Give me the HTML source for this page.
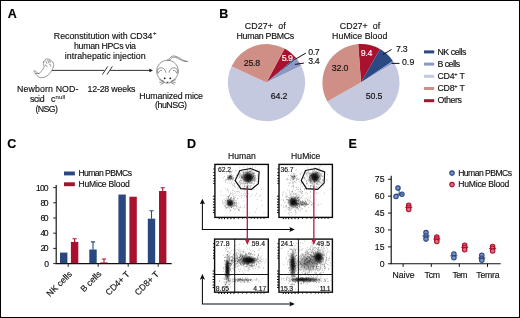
<!DOCTYPE html>
<html><head><meta charset="utf-8"><title>Figure</title>
<style>
html,body{margin:0;padding:0;background:#fff;}
svg{display:block;will-change:transform;font-family:"Liberation Sans",sans-serif;}
text{font-family:"Liberation Sans",sans-serif;stroke-width:0.15px;}
</style></head><body>
<svg width="520" height="318" viewBox="0 0 520 318">
<rect width="520" height="318" fill="#fff"/>
<text x="7.8" y="17.9" font-size="12.5" text-anchor="start" font-weight="bold" fill="#000" stroke="#000" >A</text>
<text x="219.3" y="18.0" font-size="12.5" text-anchor="start" font-weight="bold" fill="#000" stroke="#000" >B</text>
<text x="7.3" y="148.2" font-size="12.5" text-anchor="start" font-weight="bold" fill="#000" stroke="#000" >C</text>
<text x="186.9" y="148.2" font-size="12.5" text-anchor="start" font-weight="bold" fill="#000" stroke="#000" >D</text>
<text x="348.6" y="148.2" font-size="12.5" text-anchor="start" font-weight="bold" fill="#000" stroke="#000" >E</text>
<text x="53.8" y="39.0" font-size="8.8" textLength="98.70" lengthAdjust="spacing" fill="#111" stroke="#111" >Reconstitution with CD34</text>
<text x="152.9" y="34.9" font-size="6" text-anchor="start" font-weight="normal" fill="#111" stroke="#111" >+</text>
<text x="74" y="49.3" font-size="8.8" textLength="62.00" lengthAdjust="spacing" fill="#111" stroke="#111" >human HPCs via</text>
<text x="64.8" y="59.4" font-size="8.8" textLength="80.80" lengthAdjust="spacing" fill="#111" stroke="#111" >intrahepatic injection</text>
<path d="M52 70.4H104.4M110.2 70.4H151" stroke="#1a1a1a" stroke-width="0.9" fill="none"/>
<path d="M153 70.4l-3.6 -1.9v3.8z" fill="#222"/>
<path d="M102.4 74.5L107.8 66.4M107 74.5L112.4 66.4" stroke="#1a1a1a" stroke-width="0.9" fill="none"/>
<text x="16.9" y="91.9" font-size="8.8" textLength="61.60" lengthAdjust="spacing" fill="#111" stroke="#111" >Newborn NOD-</text>
<text x="30" y="102" font-size="8.8" textLength="14.60" lengthAdjust="spacing" fill="#111" stroke="#111" >scid</text>
<text x="51.0" y="102" font-size="8.8" text-anchor="start" font-weight="normal" fill="#111" stroke="#111" >c</text>
<text x="55.4" y="98.5" font-size="6.0" textLength="10.00" lengthAdjust="spacing" fill="#333" stroke="#333" >null</text>
<text x="35.4" y="112" font-size="8.8" textLength="22.60" lengthAdjust="spacing" fill="#111" stroke="#111" >(NSG)</text>
<text x="87.5" y="91.6" font-size="8.8" textLength="48.00" lengthAdjust="spacing" fill="#111" stroke="#111" >12-28 weeks</text>
<text x="139.3" y="98.8" font-size="8.8" textLength="63.70" lengthAdjust="spacing" fill="#111" stroke="#111" >Humanized mice</text>
<text x="155" y="108.4" font-size="8.8" textLength="32.00" lengthAdjust="spacing" fill="#111" stroke="#111" >(huNSG)</text>
<g fill="none" stroke="#6a6a6a" stroke-width="0.7" stroke-linecap="round" stroke-linejoin="round"><path d="M43.6 62.0Q43.9 61.4 44.4 60.5Q44.9 59.6 45.8 59.2Q46.7 58.8 47.7 59.0Q48.7 59.1 49.7 59.6Q50.7 60.1 51.7 61.0Q52.7 61.9 53.2 63.0Q53.7 64.1 53.6 65.6Q53.5 67.0 52.8 68.3Q52.2 69.7 51.4 70.9Q50.7 72.2 49.4 73.7Q48.2 75.2 46.4 76.3Q44.5 77.5 42.3 77.7Q40.1 78.0 38.6 76.9Q37.0 75.8 35.9 74.4Q34.8 72.9 34.3 71.5Q33.8 70.2 34.8 70.8Q35.8 71.4 36.7 72.3Q37.6 73.2 38.4 73.4Q39.1 73.7 40.0 72.8Q40.9 71.9 42.0 70.4Q43.1 68.9 43.8 67.9Q44.4 66.9 44.0 65.8Q43.6 64.6 43.5 63.6Q43.3 62.6 43.6 62.0z"/><path d="M45.8 61.1L46.9 63.4M47.7 60.1L48.7 62.6M49.7 60.3L50.2 62.4M49.2 63.9Q50.9 64.1 50.9 66.1M45.2 65.1L47.2 66.4M38.9 73.7L36.1 73.4"/></g>
<g fill="none" stroke="#666" stroke-width="0.7" stroke-linecap="round" stroke-linejoin="round"><path d="M167.5 60.2c-6 0 -10.8 5 -10.8 11c0 3 1.3 5.8 3.4 7.6c1.4 1.6 4.2 4.4 7.4 4.4s6 -2.8 7.4 -4.4c2.1 -1.800 3.400 -4.600 3.400 -7.600c0 -6 -4.800 -11 -10.800 -11z"/><path d="M157.200 72.500c-0.400 -3.200 2 -5 4.400 -4.700c2.300 0.300 3.800 2.200 4.300 4.500M158.300 73.200c0.300 -2 1.800 -3 3.300 -2.800M177.800 72.500c0.400 -3.200 -2 -5 -4.400 -4.700c-2.300 0.300 -3.800 2.200 -4.300 4.500M176.700 73.200c-0.300 -2 -1.800 -3 -3.300 -2.800"/><path d="M168.300 60.300c1 -2.600 3.200 -4.400 5.600 -4.400c4.400 0 8.400 5.600 13.300 5.600M169.500 60.600c1 -2 2.600 -3.400 4.500 -3.400c4 0 8 5 13.200 4.300"/><path d="M163.500 81l-4.200 -1.300M163.700 81.800l-4 0.600M164 82.500l-3.200 2M171.500 81l4.200 -1.300M171.300 81.800l4 0.600M171 82.500l3.200 2"/></g>
<circle cx="164.700" cy="78.300" r="0.900" fill="#111"/><circle cx="170.300" cy="78.300" r="0.900" fill="#111"/><path d="M166.500 81.800h2l-1 1.200z" fill="#111"/>
<path d="M266.5 82.6L284.62 48.52A38.6 38.6 0 0 1 295.74 57.40z" fill="#a8122f"/>
<path d="M266.5 82.6L295.74 57.40A38.6 38.6 0 0 1 296.82 58.71z" fill="#2b4a83"/>
<path d="M266.5 82.6L296.82 58.71A38.6 38.6 0 0 1 301.19 65.68z" fill="#8b99c3"/>
<path d="M266.5 82.6L301.19 65.68A38.6 38.6 0 1 1 231.55 66.21z" fill="#c4c9e0"/>
<path d="M266.5 82.6L231.55 66.21A38.6 38.6 0 0 1 284.62 48.52z" fill="#cf8f86"/>
<path d="M361 82.6L358.11 44.11A38.6 38.6 0 0 1 380.03 49.02z" fill="#a8122f"/>
<path d="M361 82.6L380.03 49.02A38.6 38.6 0 0 1 392.93 60.91z" fill="#2b4a83"/>
<path d="M361 82.6L392.93 60.91A38.6 38.6 0 0 1 394.11 62.75z" fill="#8b99c3"/>
<path d="M361 82.6L394.11 62.75A38.6 38.6 0 1 1 327.29 101.40z" fill="#c4c9e0"/>
<path d="M361 82.6L327.29 101.40A38.6 38.6 0 0 1 358.35 44.09z" fill="#cf8f86"/>
<text x="244.8" y="28.5" font-size="8.8" textLength="41.00" lengthAdjust="spacing" fill="#111" stroke="#111" >CD27+&#160;&#160;of</text>
<text x="236.5" y="38.7" font-size="8.8" textLength="57.70" lengthAdjust="spacing" fill="#111" stroke="#111" >Human PBMCs</text>
<text x="339.8" y="28.5" font-size="8.8" textLength="40.40" lengthAdjust="spacing" fill="#111" stroke="#111" >CD27+&#160;&#160;of</text>
<text x="332.1" y="38.7" font-size="8.8" textLength="55.20" lengthAdjust="spacing" fill="#111" stroke="#111" >HuMice Blood</text>
<text x="243.7" y="66.4" font-size="8.8" textLength="16.50" lengthAdjust="spacing" fill="#111" stroke="#111" >25.8</text>
<text x="281.8" y="61.4" font-size="8.8" textLength="11.00" lengthAdjust="spacing" fill="#fff" stroke="#fff" >5.9</text>
<text x="270.8" y="98.8" font-size="8.8" textLength="16.50" lengthAdjust="spacing" fill="#111" stroke="#111" >64.2</text>
<text x="308.3" y="54.5" font-size="8.8" textLength="11.40" lengthAdjust="spacing" fill="#111" stroke="#111" >0.7</text>
<text x="308.3" y="63.8" font-size="8.8" textLength="11.40" lengthAdjust="spacing" fill="#111" stroke="#111" >3.4</text>
<path d="M295.7 59L305.9 53.1M294.9 64.4L303.9 63.1" stroke="#111" stroke-width="1" fill="none"/>
<text x="331.7" y="70.5" font-size="8.8" textLength="16.70" lengthAdjust="spacing" fill="#111" stroke="#111" >32.0</text>
<text x="360.7" y="55.9" font-size="8.8" textLength="11.70" lengthAdjust="spacing" fill="#fff" stroke="#fff" >9.4</text>
<text x="365.8" y="99" font-size="8.8" textLength="16.50" lengthAdjust="spacing" fill="#111" stroke="#111" >50.5</text>
<text x="396" y="51.5" font-size="8.8" textLength="11.70" lengthAdjust="spacing" fill="#111" stroke="#111" >7.3</text>
<text x="401.9" y="65.3" font-size="8.8" textLength="12.40" lengthAdjust="spacing" fill="#111" stroke="#111" >0.9</text>
<path d="M383 54.5L391.5 49.5M391.5 63.4L399.5 63.4" stroke="#111" stroke-width="1" fill="none"/>
<rect x="424" y="50.40" width="10.2" height="3" fill="#2b4a83"/>
<rect x="424" y="62.60" width="10.2" height="3" fill="#8b99c3"/>
<rect x="424" y="74.80" width="10.2" height="3" fill="#c4c9e0"/>
<rect x="424" y="87.00" width="10.2" height="3" fill="#cf8f86"/>
<rect x="424" y="99.20" width="10.2" height="3" fill="#a8122f"/>
<text x="437.5" y="54.6" font-size="8.8" textLength="28.90" lengthAdjust="spacing" fill="#111" stroke="#111" >NK cells</text>
<text x="437.5" y="66.8" font-size="8.8" textLength="22.60" lengthAdjust="spacing" fill="#111" stroke="#111" >B cells</text>
<text x="437.5" y="103.4" font-size="8.8" textLength="24.50" lengthAdjust="spacing" fill="#111" stroke="#111" >Others</text>
<text x="437.5" y="79.0" font-size="8.8" text-anchor="start" font-weight="normal" fill="#111" stroke="#111" letter-spacing="-0.25">CD4<tspan font-size="5.6" dy="-2.8">+</tspan><tspan dy="2.8"> T</tspan></text>
<text x="437.5" y="91.2" font-size="8.8" text-anchor="start" font-weight="normal" fill="#111" stroke="#111" letter-spacing="-0.25">CD8<tspan font-size="5.6" dy="-2.8">+</tspan><tspan dy="2.8"> T</tspan></text>
<path d="M56.2 185V263.6H171.700" stroke="#111" stroke-width="1.15" fill="none"/>
<path d="M53.2 263.60H56.2" stroke="#111" stroke-width="0.900"/>
<text x="44.300000000000004" y="266.55" font-size="8.6" textLength="4.30" lengthAdjust="spacing" fill="#111" stroke="#111" >0</text>
<path d="M53.2 248.40H56.2" stroke="#111" stroke-width="0.900"/>
<text x="40.6" y="251.35" font-size="8.6" textLength="8.00" lengthAdjust="spacing" fill="#111" stroke="#111" >20</text>
<path d="M53.2 233.20H56.2" stroke="#111" stroke-width="0.900"/>
<text x="40.6" y="236.15" font-size="8.6" textLength="8.00" lengthAdjust="spacing" fill="#111" stroke="#111" >40</text>
<path d="M53.2 218.00H56.2" stroke="#111" stroke-width="0.900"/>
<text x="40.6" y="220.95" font-size="8.6" textLength="8.00" lengthAdjust="spacing" fill="#111" stroke="#111" >60</text>
<path d="M53.2 202.80H56.2" stroke="#111" stroke-width="0.900"/>
<text x="40.6" y="205.75" font-size="8.6" textLength="8.00" lengthAdjust="spacing" fill="#111" stroke="#111" >80</text>
<path d="M53.2 187.60H56.2" stroke="#111" stroke-width="0.900"/>
<text x="36.0" y="190.55" font-size="8.6" textLength="12.60" lengthAdjust="spacing" fill="#111" stroke="#111" >100</text>
<path d="M68.2 263.6V266.800" stroke="#111" stroke-width="0.900"/>
<path d="M98.2 263.6V266.800" stroke="#111" stroke-width="0.900"/>
<path d="M128.2 263.6V266.800" stroke="#111" stroke-width="0.900"/>
<path d="M158.2 263.6V266.800" stroke="#111" stroke-width="0.900"/>
<rect x="60.0" y="252.58" width="7.4" height="10.52" fill="#2a4880"/>
<rect x="70.9" y="241.94" width="7.4" height="21.16" fill="#a8122f"/>
<path d="M74.60000000000001 241.94V238.52M72.5 238.82h4.2" stroke="#a8122f" stroke-width="1.1" fill="none"/>
<rect x="89.3" y="249.50" width="7.4" height="13.60" fill="#2a4880"/>
<path d="M93.0 249.50V241.60M90.89999999999999 241.90h4.2" stroke="#2a4880" stroke-width="1.1" fill="none"/>
<rect x="100.3" y="262.46" width="7.4" height="0.64" fill="#a8122f"/>
<path d="M104.0 262.46V258.66M101.89999999999999 258.96h4.2" stroke="#a8122f" stroke-width="1.1" fill="none"/>
<rect x="118.4" y="194.55" width="7.4" height="68.55" fill="#2a4880"/>
<rect x="129.4" y="196.72" width="7.4" height="66.38" fill="#a8122f"/>
<rect x="147.8" y="218.68" width="7.4" height="44.42" fill="#2a4880"/>
<path d="M151.5 218.68V210.48M149.4 210.78h4.2" stroke="#2a4880" stroke-width="1.1" fill="none"/>
<rect x="159.0" y="191.02" width="7.4" height="72.08" fill="#a8122f"/>
<path d="M162.7 191.02V187.52M160.6 187.82h4.2" stroke="#a8122f" stroke-width="1.1" fill="none"/>
<text transform="translate(72.6 274.7) rotate(-45)" font-size="8.7" text-anchor="end" fill="#111" stroke="#111">NK cells</text>
<text transform="translate(102 274.4) rotate(-45)" font-size="8.7" text-anchor="end" fill="#111" stroke="#111">B cells</text>
<text transform="translate(130.2 274.8) rotate(-45)" font-size="8.7" text-anchor="end" fill="#111" stroke="#111">CD4+ T</text>
<text transform="translate(159.4 274.7) rotate(-45)" font-size="8.7" text-anchor="end" fill="#111" stroke="#111">CD8+ T</text>
<rect x="64" y="171.5" width="10.9" height="3.9" fill="#2a4880"/><rect x="64" y="182.3" width="10.9" height="3.9" fill="#a8122f"/>
<text x="78.4" y="175.8" font-size="8.6" textLength="53.60" lengthAdjust="spacing" fill="#111" stroke="#111" >Human PBMCs</text>
<text x="78.4" y="186.6" font-size="8.6" textLength="51.40" lengthAdjust="spacing" fill="#111" stroke="#111" >HuMice Blood</text>
<defs><radialGradient id="g"><stop offset="0" stop-color="#111" stop-opacity="0.95"/><stop offset="0.4" stop-color="#111" stop-opacity="0.7"/><stop offset="0.75" stop-color="#111" stop-opacity="0.22"/><stop offset="1" stop-color="#111" stop-opacity="0"/></radialGradient></defs>
<ellipse cx="248.2" cy="177.2" rx="8" ry="7.2" fill="url(#g)" opacity="1"/>
<ellipse cx="248.6" cy="177.1" rx="4.6" ry="4.2" fill="url(#g)" opacity="1"/>
<ellipse cx="230" cy="177.4" rx="3.2" ry="3.2" fill="url(#g)" opacity="0.75"/>
<ellipse cx="230" cy="203" rx="5" ry="4.8" fill="url(#g)" opacity="1"/>
<ellipse cx="230" cy="203" rx="3.2" ry="3.2" fill="url(#g)" opacity="0.9"/>
<path d="M246.5 179.3h.5M246.7 176.2h.5M243.7 176.6h.5M252.3 179.0h.5M252.0 178.3h.5M249.3 178.1h.5M240.6 180.6h.5M249.7 179.3h.5M240.5 170.8h.5M243.9 175.6h.5M248.9 177.2h.5M249.8 175.0h.5M248.9 178.9h.5M244.8 183.9h.5M249.9 181.9h.5M245.0 174.6h.5M246.2 177.0h.5M250.3 178.3h.5M245.7 173.8h.5M245.4 182.0h.5M244.2 178.3h.5M249.4 171.7h.5M247.8 182.4h.5M239.1 176.2h.5M247.2 174.3h.5M249.7 177.2h.5M241.4 180.5h.5M250.4 181.0h.5M253.7 178.8h.5M248.1 172.5h.5M250.2 175.1h.5M245.7 172.6h.5M243.5 175.4h.5M253.0 169.7h.5M241.5 178.3h.5M253.7 179.6h.5M239.6 167.8h.5M249.1 174.6h.5M242.9 181.1h.5M252.2 178.0h.5M248.6 179.1h.5M254.3 179.8h.5M249.8 179.5h.5M241.0 182.3h.5M251.6 179.4h.5M239.3 175.0h.5M251.1 170.5h.5M246.8 181.3h.5M242.1 183.5h.5M249.9 176.8h.5M249.0 179.9h.5M248.1 181.8h.5M244.8 175.8h.5M252.0 177.5h.5M243.9 181.0h.5M253.8 175.7h.5M241.8 176.9h.5M247.0 176.3h.5M253.5 173.5h.5M252.9 172.6h.5M244.3 179.8h.5M252.3 180.7h.5M249.0 177.9h.5M248.2 179.6h.5M246.9 178.5h.5M250.0 177.4h.5M250.8 179.6h.5M256.0 178.6h.5M245.8 176.0h.5M247.5 180.9h.5M246.2 178.9h.5M255.3 167.7h.5M242.9 178.3h.5M249.3 178.3h.5M245.8 179.9h.5M248.8 175.4h.5M257.8 178.7h.5M245.3 177.0h.5M246.7 177.2h.5M236.1 175.5h.5M251.8 173.0h.5M247.3 181.0h.5M251.2 183.1h.5M240.5 176.1h.5M246.2 179.8h.5M252.2 167.2h.5M252.2 171.9h.5M250.5 171.7h.5M248.3 181.9h.5M247.0 178.1h.5M250.9 177.9h.5M247.2 183.2h.5M252.0 176.3h.5M259.1 173.0h.5M251.4 176.4h.5M248.2 180.1h.5M248.5 179.8h.5M241.2 171.7h.5M250.2 173.7h.5M243.3 171.8h.5M252.9 180.2h.5M253.8 173.8h.5M247.6 173.1h.5M250.8 183.4h.5M243.9 183.3h.5M251.7 176.7h.5M239.3 182.7h.5M247.2 175.1h.5M249.3 179.0h.5M253.9 173.5h.5M252.4 183.1h.5M253.7 176.7h.5M244.5 181.3h.5M248.1 177.9h.5M253.6 176.4h.5M238.0 175.9h.5M239.8 180.5h.5M248.9 175.1h.5M247.6 180.6h.5M247.9 182.4h.5M247.3 181.4h.5M253.9 183.5h.5M244.8 180.7h.5M239.7 173.3h.5M239.4 181.5h.5M242.4 177.4h.5M246.8 177.3h.5M245.1 178.3h.5M255.1 177.6h.5M249.8 181.2h.5M246.8 172.6h.5M245.3 181.5h.5M240.7 175.1h.5M251.8 180.4h.5M247.6 180.5h.5M248.3 172.9h.5M241.0 175.0h.5M251.5 175.3h.5M243.8 174.5h.5M241.2 177.0h.5M242.6 178.8h.5M237.7 178.6h.5M244.9 170.0h.5M250.6 176.4h.5M238.2 174.1h.5M248.8 175.7h.5M250.9 180.2h.5M250.4 178.6h.5M253.2 179.9h.5M249.5 169.5h.5M251.4 182.4h.5M246.4 175.6h.5M255.7 170.7h.5M249.6 186.6h.5M243.7 180.0h.5M255.5 176.9h.5M250.0 180.8h.5M243.8 177.1h.5M248.8 180.5h.5M247.5 176.7h.5M243.3 176.0h.5M251.3 177.8h.5M244.0 174.2h.5M258.8 181.7h.5M250.3 167.5h.5M250.2 179.2h.5M254.7 179.0h.5M247.3 179.4h.5M239.4 181.3h.5M249.0 174.7h.5M253.2 184.3h.5M241.7 174.9h.5M248.8 178.1h.5M245.9 173.7h.5M256.5 181.3h.5M242.6 172.3h.5M254.8 181.2h.5M255.2 180.5h.5M243.9 178.4h.5M238.5 174.6h.5M247.4 179.4h.5M244.5 176.9h.5M249.5 178.8h.5M250.3 178.2h.5M246.2 180.4h.5M247.8 174.3h.5M245.0 177.4h.5M247.1 178.0h.5M247.6 178.1h.5M247.0 172.6h.5M249.4 181.4h.5M249.4 176.7h.5M249.5 173.7h.5M239.6 177.6h.5M243.7 180.2h.5M243.0 167.4h.5M243.2 183.4h.5M246.0 172.2h.5M244.4 179.4h.5M249.7 178.1h.5M253.8 180.1h.5M247.5 179.7h.5M254.5 181.1h.5M251.9 173.3h.5M247.0 180.2h.5M246.4 181.5h.5M250.1 180.9h.5M246.7 187.1h.5M252.8 176.6h.5M248.0 187.3h.5M246.2 180.7h.5M251.7 177.4h.5M242.7 178.1h.5M249.1 181.7h.5M250.9 177.5h.5M251.2 179.5h.5M248.5 177.6h.5M246.6 180.0h.5M243.2 175.0h.5M247.6 171.8h.5M245.8 169.8h.5M244.7 179.6h.5M250.0 177.2h.5M246.6 172.0h.5M255.3 179.4h.5M252.2 174.0h.5M246.8 170.5h.5M250.9 181.0h.5M239.6 177.2h.5M250.2 170.7h.5M239.9 173.4h.5M245.0 172.1h.5M247.7 178.3h.5M250.3 180.1h.5M253.9 181.8h.5M242.1 175.5h.5M243.1 173.3h.5M247.3 177.4h.5M249.7 171.4h.5M242.4 177.3h.5M246.8 176.2h.5M247.3 174.5h.5M250.5 178.7h.5M247.2 174.8h.5M246.9 167.1h.5M243.5 177.5h.5M241.3 178.2h.5M248.2 172.2h.5M246.5 176.2h.5M249.5 179.7h.5M247.4 174.2h.5M247.0 177.2h.5M250.7 178.5h.5M244.6 172.3h.5M246.0 174.6h.5M242.9 177.0h.5M245.5 177.8h.5M249.8 175.8h.5M257.4 176.2h.5M252.2 177.9h.5M252.3 168.4h.5M244.4 178.3h.5M250.1 186.3h.5M249.0 182.3h.5M250.8 181.0h.5M249.7 176.8h.5M249.7 173.3h.5M252.6 173.5h.5M248.6 185.5h.5M246.7 177.5h.5M252.5 177.5h.5M244.2 178.4h.5M250.0 180.1h.5M244.4 184.1h.5M254.6 177.5h.5M248.7 175.8h.5M253.5 174.7h.5M250.4 175.6h.5M244.7 180.1h.5M253.2 177.4h.5M244.8 180.5h.5M247.4 178.6h.5M254.0 181.7h.5M245.4 186.1h.5M247.6 180.4h.5M244.9 177.2h.5M240.3 184.2h.5M253.3 172.8h.5M241.3 171.2h.5M252.5 175.7h.5M247.3 176.2h.5M247.1 173.3h.5M247.7 171.9h.5M247.3 178.6h.5M249.6 176.5h.5M243.8 178.0h.5M245.6 183.4h.5M250.8 177.0h.5M245.6 174.7h.5M243.7 176.1h.5M248.8 179.4h.5M250.0 185.4h.5M244.6 177.4h.5M259.3 170.3h.5M245.4 178.0h.5M248.2 178.9h.5M246.6 178.8h.5M247.8 180.3h.5M239.7 174.0h.5M247.6 173.5h.5M243.2 179.8h.5M244.9 179.8h.5M250.7 178.6h.5M249.7 177.0h.5M241.7 177.3h.5M249.5 175.4h.5M247.2 180.2h.5M243.9 179.8h.5M255.4 175.3h.5M248.2 176.8h.5M254.1 178.6h.5M251.4 174.8h.5M247.5 177.4h.5M240.1 182.9h.5M251.4 170.8h.5M250.7 176.9h.5M249.5 178.8h.5M241.3 176.6h.5M253.9 175.2h.5M243.3 172.2h.5M242.5 178.7h.5M254.7 179.0h.5M248.6 185.9h.5M245.4 174.8h.5M249.8 179.5h.5M243.3 173.0h.5M248.8 178.3h.5M242.1 176.6h.5M245.3 179.1h.5M247.1 177.1h.5M246.1 181.4h.5M253.4 176.0h.5M251.2 174.5h.5M247.9 180.2h.5M254.0 175.9h.5M247.3 178.1h.5M241.3 177.5h.5M244.8 178.8h.5M242.9 169.9h.5M247.8 178.4h.5M245.3 180.8h.5M246.5 175.1h.5M249.6 171.4h.5M244.8 177.3h.5M251.2 176.8h.5M248.9 174.9h.5M248.9 183.7h.5M244.7 186.4h.5M244.9 177.5h.5M248.3 181.3h.5M242.4 169.4h.5M250.1 180.4h.5M250.2 187.4h.5M248.5 178.4h.5M251.5 178.8h.5M254.6 172.7h.5M251.0 176.0h.5M251.5 185.6h.5M247.6 176.4h.5M245.5 174.2h.5M245.0 179.8h.5M247.8 177.7h.5M246.9 180.9h.5M249.7 176.9h.5M250.4 176.8h.5M242.8 182.9h.5M249.6 173.8h.5M252.1 178.7h.5M241.0 183.5h.5M249.0 180.8h.5M248.4 176.8h.5M241.1 181.1h.5M247.7 176.3h.5M249.1 177.7h.5M250.4 176.0h.5M247.4 169.3h.5M245.8 180.0h.5M253.2 176.0h.5M247.1 183.4h.5M246.2 180.2h.5M254.6 177.6h.5M252.8 174.7h.5M248.5 177.1h.5M248.1 181.7h.5M257.6 174.9h.5M245.2 179.3h.5M243.2 179.3h.5M250.0 176.3h.5M249.8 171.5h.5M250.8 171.5h.5M244.7 175.3h.5M245.9 180.7h.5M247.9 175.9h.5M249.9 183.4h.5M247.6 178.8h.5M252.8 178.4h.5M242.2 186.9h.5M256.9 169.9h.5M247.4 179.0h.5M251.7 179.9h.5M246.5 173.4h.5M248.0 181.3h.5M243.0 173.5h.5M247.5 170.0h.5M246.5 175.7h.5M249.5 174.7h.5M243.9 175.9h.5M247.4 174.9h.5M247.7 180.3h.5M252.6 183.9h.5M244.3 175.8h.5M237.2 184.6h.5M244.6 177.3h.5M249.8 172.2h.5M249.5 177.3h.5M239.9 178.5h.5M252.6 170.3h.5M251.0 178.2h.5M249.6 179.1h.5M253.1 176.6h.5M251.3 175.8h.5M250.7 174.3h.5M247.1 184.0h.5M249.5 176.8h.5M242.8 174.4h.5M248.4 181.0h.5M249.4 179.4h.5M247.4 182.5h.5M246.0 175.3h.5M232.3 177.6h.5M229.3 175.9h.5M229.3 179.0h.5M230.9 174.3h.5M231.1 177.9h.5M227.4 179.4h.5M229.3 176.5h.5M232.1 180.8h.5M228.2 178.5h.5M227.7 183.4h.5M228.7 180.5h.5M228.3 179.5h.5M235.8 170.8h.5M228.9 178.7h.5M229.8 175.7h.5M235.6 177.6h.5M225.7 179.6h.5M225.5 180.4h.5M228.5 177.8h.5M233.3 177.7h.5M226.4 173.0h.5M233.1 179.3h.5M227.9 179.6h.5M231.3 179.1h.5M224.1 176.6h.5M232.3 179.3h.5M232.3 171.0h.5M230.4 178.7h.5M236.6 174.9h.5M229.1 177.5h.5M232.3 176.2h.5M233.0 175.4h.5M230.7 176.0h.5M230.4 175.6h.5M225.8 180.2h.5M230.8 175.9h.5M230.5 180.0h.5M227.5 177.1h.5M231.4 178.8h.5M229.1 171.9h.5M233.2 178.3h.5M230.0 176.7h.5M230.7 176.3h.5M227.3 175.5h.5M228.4 175.8h.5M227.0 179.1h.5M226.6 179.1h.5M227.4 178.3h.5M233.6 177.9h.5M228.1 177.5h.5M230.4 172.9h.5M228.4 177.8h.5M228.8 177.6h.5M231.9 179.4h.5M232.4 178.9h.5M229.3 177.4h.5M229.3 176.6h.5M229.5 172.9h.5M229.1 177.3h.5M227.5 177.3h.5M231.3 177.0h.5M235.4 170.6h.5M229.5 172.7h.5M232.5 184.3h.5M223.5 177.7h.5M231.3 176.6h.5M231.4 171.6h.5M232.2 178.4h.5M230.1 175.9h.5M231.7 176.1h.5M230.8 201.3h.5M222.4 202.9h.5M230.7 205.6h.5M227.0 202.9h.5M232.1 203.5h.5M234.2 209.8h.5M226.9 196.5h.5M232.9 208.2h.5M233.1 205.8h.5M227.9 200.6h.5M233.0 199.9h.5M223.8 199.6h.5M238.5 209.5h.5M227.7 200.5h.5M230.8 200.5h.5M234.5 202.7h.5M226.3 207.5h.5M228.0 203.8h.5M230.0 201.9h.5M231.1 200.6h.5M223.7 195.5h.5M225.7 200.4h.5M229.9 203.2h.5M231.9 203.4h.5M227.3 200.6h.5M222.8 202.4h.5M231.6 204.8h.5M229.6 202.4h.5M233.2 203.1h.5M232.5 205.0h.5M230.7 207.4h.5M228.1 201.8h.5M227.3 200.3h.5M235.3 209.0h.5M230.1 204.9h.5M234.0 205.7h.5M234.1 198.7h.5M227.8 204.5h.5M234.9 203.4h.5M227.1 201.8h.5M227.8 200.1h.5M235.1 200.9h.5M230.1 210.4h.5M234.0 204.1h.5M227.9 204.4h.5M235.5 205.1h.5M234.3 203.3h.5M231.8 202.3h.5M231.5 207.4h.5M225.1 202.8h.5M230.8 201.1h.5M229.0 205.7h.5M236.8 205.1h.5M231.1 197.7h.5M236.6 203.3h.5M229.9 199.2h.5M229.8 199.3h.5M230.2 204.6h.5M230.1 204.0h.5M227.1 207.9h.5M227.8 196.8h.5M229.4 200.4h.5M226.6 201.8h.5M231.0 199.0h.5M229.5 207.9h.5M232.3 202.5h.5M230.4 202.6h.5M229.8 205.5h.5M229.7 194.8h.5M229.9 200.0h.5M232.2 200.9h.5M230.5 210.4h.5M226.4 199.2h.5M225.2 194.9h.5M223.6 204.2h.5M227.8 196.6h.5M225.0 205.1h.5M227.4 201.8h.5M231.1 207.6h.5M236.6 206.5h.5M230.5 203.6h.5M236.1 207.9h.5M228.9 204.6h.5M231.0 203.2h.5M228.3 198.5h.5M228.2 197.7h.5M234.2 204.8h.5M225.9 207.7h.5M233.0 196.5h.5M236.3 205.8h.5M237.0 198.8h.5M231.8 204.4h.5M230.7 203.6h.5M233.6 197.9h.5M225.8 198.3h.5M228.1 200.9h.5M231.2 203.9h.5M230.1 200.7h.5M228.5 206.2h.5M232.6 203.3h.5M228.9 208.3h.5M228.0 205.2h.5M233.9 202.1h.5M232.8 199.2h.5M233.4 203.7h.5M224.6 205.3h.5M227.0 207.4h.5M227.7 202.4h.5M231.0 201.9h.5M230.9 201.1h.5M232.3 203.0h.5M230.7 193.6h.5M233.9 203.1h.5M223.9 203.3h.5M231.6 206.6h.5M226.3 208.3h.5M229.5 211.1h.5M229.5 205.3h.5M228.8 199.2h.5M233.7 206.1h.5M235.2 205.9h.5M228.1 197.3h.5M227.8 200.7h.5M227.2 205.0h.5M231.1 202.1h.5M230.6 202.5h.5M230.7 205.6h.5M233.3 200.7h.5M224.9 207.9h.5M230.4 206.8h.5M224.4 201.9h.5M230.1 198.1h.5M228.2 205.5h.5M233.7 208.4h.5M227.1 198.2h.5M231.8 206.2h.5M230.7 198.6h.5M232.7 205.7h.5M231.9 201.3h.5M231.0 205.7h.5M228.1 196.7h.5M231.1 204.6h.5M230.0 206.0h.5M228.0 202.7h.5M229.0 204.9h.5M235.4 202.1h.5M237.0 208.2h.5M232.7 205.0h.5M236.0 202.4h.5M229.6 199.4h.5M231.6 207.6h.5M231.8 204.4h.5M229.3 203.6h.5M225.2 206.6h.5M228.6 199.2h.5M227.4 200.2h.5M232.9 206.6h.5M225.4 206.1h.5M233.0 201.0h.5M224.9 200.5h.5M227.8 204.2h.5M228.8 196.1h.5M230.8 197.8h.5M233.1 198.9h.5M227.6 200.1h.5M228.2 207.4h.5M232.9 205.0h.5M231.1 197.7h.5M228.2 201.1h.5M226.7 204.7h.5M232.6 185.9h.5M230.7 172.4h.5M240.6 206.3h.5M238.0 183.2h.5M220.8 194.7h.5M244.3 196.0h.5M242.6 207.8h.5M243.8 188.6h.5M243.3 200.8h.5M227.8 188.9h.5M228.5 191.9h.5M240.5 182.3h.5M224.7 206.0h.5M239.3 207.7h.5M229.1 203.6h.5M249.4 213.1h.5M235.7 195.7h.5M236.1 203.0h.5M243.2 193.9h.5M228.8 200.4h.5M234.2 199.3h.5M238.6 209.2h.5M243.8 188.5h.5M239.1 210.6h.5M233.8 197.3h.5M244.1 205.6h.5M240.1 179.8h.5M229.4 195.5h.5M231.8 204.4h.5M241.6 176.3h.5M232.1 194.7h.5M234.0 191.5h.5M239.8 184.9h.5M239.8 186.6h.5M233.7 198.4h.5M233.6 195.9h.5M246.6 193.3h.5M236.1 200.4h.5M234.8 203.8h.5M229.3 199.2h.5M233.9 185.0h.5M247.6 184.5h.5M247.5 199.6h.5M245.7 183.2h.5M244.2 207.6h.5M236.3 191.7h.5M251.7 194.8h.5M234.5 186.7h.5M239.7 196.3h.5M238.1 210.2h.5M235.0 197.7h.5M245.8 183.0h.5M243.2 211.3h.5M228.9 182.0h.5M230.8 174.5h.5M239.7 174.4h.5M240.0 207.5h.5M227.3 189.8h.5M225.5 200.8h.5M232.6 190.3h.5M237.3 198.5h.5M234.9 193.2h.5M233.7 194.1h.5M230.0 193.6h.5M225.4 188.1h.5M248.5 193.8h.5M229.4 195.6h.5M231.2 176.5h.5M232.6 200.4h.5M239.3 192.0h.5M231.4 182.2h.5M245.1 195.4h.5M231.3 171.9h.5M230.1 192.2h.5M238.3 191.4h.5M235.3 179.3h.5M230.7 209.9h.5M232.5 201.5h.5M226.8 190.3h.5M238.6 203.4h.5M230.3 199.0h.5M239.3 185.6h.5M239.9 184.0h.5M232.2 192.8h.5M220.7 191.9h.5M231.0 178.4h.5M234.4 200.6h.5M234.6 205.7h.5M230.0 179.9h.5M246.3 197.0h.5M242.7 184.7h.5M241.8 195.6h.5M240.9 193.3h.5M244.2 186.5h.5M231.2 178.2h.5M244.0 185.6h.5M230.7 183.6h.5M234.3 180.3h.5M235.3 186.7h.5M233.7 183.4h.5M237.2 188.4h.5M237.7 195.5h.5M239.0 171.1h.5M233.8 185.0h.5M241.6 177.2h.5M232.7 190.1h.5M235.0 202.9h.5M234.3 202.6h.5M230.3 176.9h.5M257.2 199.4h.5M249.9 196.2h.5M249.8 182.8h.5M254.5 189.7h.5M254.9 195.9h.5M225.3 182.1h.5M256.3 193.6h.5M241.0 197.4h.5M240.7 189.6h.5M246.0 196.4h.5M260.2 195.5h.5M263.8 213.0h.5M262.2 205.6h.5M246.3 196.4h.5M243.6 187.7h.5M244.3 188.6h.5M261.4 200.3h.5M240.5 175.8h.5M244.5 190.8h.5M234.1 183.6h.5M222.5 200.7h.5M244.7 193.5h.5M259.4 196.3h.5M246.7 191.3h.5M238.9 210.0h.5M255.0 212.2h.5M241.5 195.3h.5M236.2 204.7h.5M231.1 200.6h.5M256.0 209.1h.5M235.6 205.9h.5M237.9 187.4h.5M231.8 206.6h.5M261.5 189.1h.5M237.4 191.6h.5M239.6 177.1h.5M238.3 206.9h.5" stroke="#111" stroke-width="0.55" stroke-opacity="0.8" fill="none"/>
<ellipse cx="314.8" cy="177.2" rx="7" ry="6.8" fill="url(#g)" opacity="1"/>
<ellipse cx="315.1" cy="177.1" rx="3.8" ry="4" fill="url(#g)" opacity="0.9"/>
<ellipse cx="293.4" cy="201.9" rx="6.4" ry="6.2" fill="url(#g)" opacity="1"/>
<ellipse cx="293.6" cy="202.2" rx="4.4" ry="4.4" fill="url(#g)" opacity="1"/>
<ellipse cx="293.4" cy="177.4" rx="3" ry="3" fill="url(#g)" opacity="0.4"/>
<ellipse cx="303" cy="204" rx="7" ry="2.2" fill="url(#g)" opacity="0.5"/>
<path d="M322.2 176.3h.5M311.5 175.3h.5M306.5 181.2h.5M309.8 181.9h.5M307.2 172.1h.5M315.6 174.2h.5M317.7 177.4h.5M309.5 180.0h.5M317.9 169.4h.5M322.1 179.5h.5M317.6 169.6h.5M311.4 175.9h.5M318.9 171.3h.5M310.7 168.9h.5M313.4 178.9h.5M307.3 174.9h.5M316.5 184.1h.5M317.2 176.1h.5M309.5 173.5h.5M311.6 178.0h.5M314.2 184.4h.5M315.6 172.9h.5M320.9 181.4h.5M314.8 174.4h.5M306.5 173.1h.5M318.2 174.0h.5M308.9 178.2h.5M315.4 179.9h.5M317.2 183.3h.5M310.9 181.5h.5M310.3 180.3h.5M315.2 178.4h.5M318.5 177.3h.5M319.1 181.1h.5M315.0 175.0h.5M311.2 175.2h.5M313.6 177.3h.5M326.9 180.1h.5M317.6 173.8h.5M311.4 176.1h.5M315.2 173.0h.5M321.2 175.0h.5M318.9 167.6h.5M314.4 178.6h.5M315.2 179.9h.5M315.6 178.1h.5M306.5 174.4h.5M304.6 180.0h.5M315.7 176.6h.5M311.0 175.0h.5M322.2 184.7h.5M314.2 182.8h.5M307.7 169.3h.5M312.4 173.7h.5M312.1 178.2h.5M327.1 174.6h.5M314.6 178.6h.5M314.3 181.3h.5M321.9 172.2h.5M315.1 176.3h.5M315.9 171.0h.5M307.0 167.7h.5M316.6 178.2h.5M314.7 167.5h.5M312.8 174.2h.5M308.5 173.6h.5M317.3 179.7h.5M314.3 179.6h.5M311.9 177.7h.5M314.6 179.7h.5M314.1 176.8h.5M313.8 174.7h.5M323.8 179.6h.5M316.2 187.0h.5M320.3 170.9h.5M317.3 180.9h.5M322.3 182.9h.5M317.6 172.5h.5M310.7 178.5h.5M316.5 173.1h.5M312.8 175.7h.5M314.7 178.8h.5M313.2 172.2h.5M319.6 184.1h.5M314.0 181.7h.5M316.3 180.2h.5M316.4 174.2h.5M316.8 181.6h.5M310.6 185.7h.5M323.2 185.1h.5M322.8 180.5h.5M313.0 174.9h.5M311.0 177.9h.5M314.3 180.2h.5M305.9 187.1h.5M324.0 177.3h.5M317.2 179.4h.5M315.5 176.5h.5M313.9 173.9h.5M315.1 177.3h.5M315.7 173.8h.5M314.6 177.6h.5M316.9 172.9h.5M316.2 181.5h.5M316.9 175.9h.5M312.3 176.4h.5M317.5 183.9h.5M313.7 174.7h.5M316.0 178.3h.5M310.6 174.3h.5M314.0 180.2h.5M309.4 173.1h.5M316.5 172.3h.5M314.9 178.9h.5M313.9 173.1h.5M314.1 176.0h.5M315.8 173.9h.5M319.0 170.4h.5M313.7 177.4h.5M318.4 174.8h.5M316.7 175.0h.5M317.5 184.7h.5M312.7 179.3h.5M310.5 181.5h.5M319.5 177.5h.5M309.6 179.1h.5M319.2 182.0h.5M317.8 169.7h.5M311.5 183.4h.5M309.3 182.2h.5M322.3 180.6h.5M319.1 176.0h.5M309.3 177.0h.5M313.6 177.2h.5M317.3 176.8h.5M315.2 179.2h.5M314.4 185.1h.5M316.3 177.8h.5M313.5 174.8h.5M320.0 178.0h.5M309.9 175.0h.5M313.8 175.5h.5M319.0 172.5h.5M316.5 178.0h.5M309.5 177.6h.5M314.0 179.5h.5M312.5 178.7h.5M307.4 172.8h.5M317.7 181.8h.5M314.3 174.9h.5M318.9 168.6h.5M311.0 180.2h.5M317.1 173.1h.5M306.5 183.5h.5M315.0 173.6h.5M314.6 181.2h.5M303.5 182.1h.5M317.5 168.7h.5M317.6 169.9h.5M319.2 179.1h.5M323.9 174.8h.5M314.4 181.8h.5M311.7 174.4h.5M312.8 177.1h.5M309.9 179.4h.5M316.7 177.7h.5M321.5 176.0h.5M319.9 175.1h.5M317.6 169.3h.5M315.2 176.7h.5M312.3 174.8h.5M312.9 174.4h.5M305.2 174.9h.5M312.1 175.2h.5M310.0 176.8h.5M317.7 176.3h.5M312.3 183.1h.5M318.5 181.3h.5M319.3 176.0h.5M313.9 182.1h.5M312.1 176.9h.5M316.0 179.0h.5M313.2 181.5h.5M313.7 180.4h.5M318.9 180.2h.5M317.5 172.5h.5M308.9 174.8h.5M316.4 183.7h.5M309.3 178.7h.5M310.8 174.3h.5M313.2 180.3h.5M315.3 182.4h.5M310.3 181.1h.5M318.3 177.7h.5M316.4 175.0h.5M309.8 175.7h.5M311.7 189.5h.5M312.4 184.3h.5M315.2 178.7h.5M317.5 174.1h.5M318.2 179.0h.5M308.0 179.9h.5M316.7 179.3h.5M321.1 175.7h.5M316.5 180.5h.5M310.6 182.4h.5M308.3 171.9h.5M316.6 172.8h.5M313.9 170.5h.5M314.7 172.6h.5M315.8 171.0h.5M316.3 176.3h.5M314.7 177.1h.5M314.9 171.9h.5M303.6 177.5h.5M310.5 175.5h.5M316.2 169.1h.5M311.2 174.8h.5M310.0 178.8h.5M313.8 174.0h.5M310.3 180.8h.5M311.6 179.9h.5M316.3 169.4h.5M309.8 177.4h.5M315.8 180.7h.5M317.8 181.7h.5M312.8 176.5h.5M317.7 175.6h.5M318.8 170.7h.5M317.1 176.7h.5M306.1 181.5h.5M315.7 177.5h.5M309.9 175.4h.5M320.7 173.9h.5M299.8 173.8h.5M309.4 176.8h.5M312.7 173.6h.5M310.9 181.8h.5M308.3 185.6h.5M312.1 172.8h.5M317.7 179.8h.5M310.0 180.5h.5M306.7 173.5h.5M319.1 176.3h.5M308.9 179.6h.5M318.3 177.3h.5M306.8 175.9h.5M316.2 180.6h.5M322.2 176.3h.5M312.4 177.2h.5M319.5 173.4h.5M319.9 165.9h.5M317.7 174.6h.5M316.3 180.3h.5M309.4 177.0h.5M315.4 179.9h.5M310.5 173.2h.5M306.3 188.1h.5M313.6 176.5h.5M308.1 181.3h.5M312.2 183.4h.5M318.0 177.5h.5M317.5 172.7h.5M313.0 175.0h.5M309.1 177.5h.5M313.8 183.4h.5M300.3 174.6h.5M310.5 175.5h.5M316.2 179.1h.5M314.5 175.4h.5M316.5 178.9h.5M306.7 176.3h.5M308.6 172.4h.5M315.0 177.7h.5M314.9 173.7h.5M313.6 173.6h.5M316.0 180.3h.5M321.8 182.7h.5M311.0 175.5h.5M310.5 178.7h.5M322.7 180.4h.5M305.2 172.1h.5M309.0 179.6h.5M314.4 178.7h.5M321.9 173.9h.5M310.8 185.7h.5M315.8 174.1h.5M305.9 171.0h.5M304.1 177.7h.5M314.6 181.6h.5M313.8 174.5h.5M311.3 185.4h.5M307.0 178.1h.5M314.5 180.0h.5M312.7 179.5h.5M317.8 176.8h.5M312.5 176.6h.5M310.3 176.5h.5M313.1 178.3h.5M320.0 182.9h.5M312.5 179.9h.5M315.6 180.6h.5M314.5 178.5h.5M312.4 174.1h.5M318.1 182.9h.5M317.2 179.2h.5M315.5 175.5h.5M306.9 180.2h.5M315.2 175.1h.5M310.3 182.8h.5M306.8 184.8h.5M317.1 187.4h.5M311.4 177.3h.5M312.3 178.1h.5M313.5 174.3h.5M318.9 174.1h.5M312.3 179.7h.5M312.1 175.6h.5M315.9 175.9h.5M309.2 177.0h.5M313.5 184.6h.5M309.8 181.5h.5M311.1 175.9h.5M313.0 178.5h.5M318.0 184.7h.5M311.7 183.0h.5M318.6 180.8h.5M311.2 181.2h.5M313.9 178.9h.5M313.3 180.2h.5M319.1 182.2h.5M313.5 181.6h.5M320.5 173.5h.5M320.6 171.8h.5M316.7 179.9h.5M320.6 178.6h.5M312.4 174.1h.5M309.1 180.6h.5M313.4 174.4h.5M316.6 174.2h.5M312.6 175.5h.5M321.3 183.5h.5M313.7 170.8h.5M315.6 177.7h.5M315.9 179.8h.5M313.1 181.3h.5M317.9 178.3h.5M312.7 175.4h.5M317.3 172.8h.5M313.7 174.3h.5M308.5 179.9h.5M314.3 177.6h.5M318.1 171.1h.5M314.1 178.6h.5M317.9 172.8h.5M317.4 178.3h.5M320.1 182.2h.5M316.7 186.4h.5M314.4 175.6h.5M313.0 173.5h.5M314.3 169.5h.5M314.0 179.2h.5M318.6 175.9h.5M320.2 174.7h.5M313.8 169.5h.5M311.2 174.1h.5M320.5 179.6h.5M309.9 179.6h.5M316.4 176.4h.5M314.5 176.1h.5M312.2 170.1h.5M314.0 182.7h.5M320.3 176.3h.5M311.3 176.5h.5M318.1 178.8h.5M312.0 178.9h.5M313.6 179.5h.5M312.7 171.4h.5M314.6 180.5h.5M309.9 177.0h.5M297.0 200.4h.5M290.7 210.2h.5M296.8 206.1h.5M289.5 208.6h.5M286.6 199.8h.5M296.4 207.3h.5M289.6 199.2h.5M294.2 194.0h.5M296.0 204.2h.5M291.6 204.1h.5M296.6 203.2h.5M295.5 208.1h.5M291.5 202.6h.5M291.3 206.1h.5M291.7 203.8h.5M294.0 202.2h.5M300.4 201.6h.5M299.2 205.3h.5M298.8 201.2h.5M297.2 205.0h.5M290.9 203.0h.5M292.9 201.8h.5M298.7 199.0h.5M286.6 194.8h.5M291.6 199.3h.5M293.5 204.2h.5M300.5 203.2h.5M295.3 198.9h.5M295.8 207.4h.5M298.8 194.0h.5M297.0 208.3h.5M296.7 195.8h.5M292.2 204.3h.5M295.1 198.6h.5M289.8 205.8h.5M288.0 207.7h.5M293.5 203.1h.5M288.0 199.5h.5M296.2 196.0h.5M301.8 196.2h.5M288.5 202.1h.5M295.3 204.9h.5M291.9 201.1h.5M292.4 199.6h.5M283.0 205.8h.5M294.4 202.5h.5M290.9 202.9h.5M293.3 201.6h.5M297.9 194.9h.5M294.4 197.6h.5M292.1 207.9h.5M289.0 201.5h.5M291.0 205.7h.5M289.4 195.1h.5M295.5 200.5h.5M292.1 206.3h.5M289.8 200.4h.5M294.0 203.6h.5M291.3 206.1h.5M302.4 200.3h.5M300.9 193.4h.5M299.1 200.5h.5M294.0 200.5h.5M290.8 196.7h.5M291.8 207.1h.5M298.0 200.5h.5M291.3 199.1h.5M288.6 209.2h.5M296.1 202.4h.5M291.4 197.8h.5M298.7 205.0h.5M289.6 205.9h.5M288.9 204.5h.5M289.5 200.2h.5M295.4 203.6h.5M297.5 198.5h.5M299.8 207.3h.5M293.4 203.8h.5M290.3 201.3h.5M288.1 202.3h.5M294.2 207.3h.5M297.2 205.2h.5M291.9 201.0h.5M292.0 202.8h.5M285.6 205.0h.5M287.1 199.8h.5M293.5 199.8h.5M300.1 201.5h.5M299.7 206.6h.5M291.4 203.5h.5M298.6 200.6h.5M293.8 199.6h.5M293.6 200.5h.5M293.7 205.9h.5M299.0 202.4h.5M294.2 205.4h.5M292.2 197.6h.5M297.9 198.1h.5M297.2 198.0h.5M300.8 197.7h.5M296.8 207.9h.5M289.5 207.9h.5M290.1 194.8h.5M296.3 204.7h.5M292.6 191.7h.5M293.2 200.7h.5M291.9 200.7h.5M286.2 199.6h.5M300.7 208.1h.5M291.9 199.0h.5M295.0 206.2h.5M296.3 197.2h.5M294.1 202.5h.5M299.2 206.7h.5M295.5 206.8h.5M291.8 208.1h.5M291.7 203.5h.5M297.1 198.2h.5M290.6 194.8h.5M294.1 201.7h.5M292.1 203.9h.5M284.9 201.8h.5M293.8 200.8h.5M296.6 209.0h.5M291.6 198.1h.5M291.0 202.3h.5M295.8 198.4h.5M297.4 197.8h.5M296.7 203.6h.5M295.3 210.6h.5M292.3 201.2h.5M295.3 205.4h.5M288.0 203.0h.5M290.4 204.4h.5M298.9 202.1h.5M293.0 202.6h.5M281.5 205.0h.5M295.7 202.6h.5M291.8 199.0h.5M292.7 206.8h.5M293.0 207.3h.5M283.0 200.0h.5M294.5 201.8h.5M286.7 199.2h.5M298.4 196.7h.5M289.4 197.5h.5M291.2 204.5h.5M295.8 193.7h.5M299.3 199.5h.5M291.0 208.6h.5M293.1 196.9h.5M290.8 199.0h.5M289.3 200.6h.5M296.9 203.3h.5M287.8 213.1h.5M289.4 202.4h.5M293.5 205.0h.5M292.1 203.7h.5M301.9 202.3h.5M289.0 203.2h.5M290.2 200.4h.5M294.2 203.3h.5M292.3 205.3h.5M292.6 196.6h.5M296.9 200.4h.5M298.3 199.3h.5M295.7 203.2h.5M282.5 195.9h.5M288.9 207.6h.5M285.8 205.6h.5M297.8 203.9h.5M296.1 199.9h.5M293.4 202.8h.5M295.1 204.8h.5M292.6 199.1h.5M291.1 203.6h.5M286.7 196.8h.5M291.7 199.7h.5M292.3 191.2h.5M292.0 200.9h.5M296.5 193.9h.5M292.2 203.8h.5M295.4 206.7h.5M297.7 197.7h.5M296.0 200.5h.5M290.2 208.1h.5M290.9 198.5h.5M291.8 198.5h.5M297.5 203.4h.5M299.1 203.6h.5M290.9 206.1h.5M290.8 200.0h.5M292.7 202.1h.5M298.2 199.5h.5M294.8 201.8h.5M288.3 197.5h.5M292.5 203.5h.5M294.7 203.8h.5M293.6 200.1h.5M295.1 197.8h.5M288.0 200.6h.5M287.6 199.8h.5M290.4 199.7h.5M293.2 198.7h.5M291.7 195.0h.5M294.0 198.3h.5M295.0 190.5h.5M290.2 202.9h.5M283.5 200.4h.5M293.8 202.3h.5M287.3 202.8h.5M294.0 198.0h.5M296.4 201.7h.5M293.5 200.1h.5M295.6 202.3h.5M298.0 203.7h.5M290.9 201.0h.5M297.1 200.4h.5M295.0 204.0h.5M292.7 192.5h.5M293.9 202.8h.5M294.0 198.8h.5M298.3 201.4h.5M290.9 199.0h.5M294.9 197.5h.5M289.3 210.0h.5M298.7 206.2h.5M298.9 204.3h.5M286.6 206.8h.5M298.4 203.9h.5M285.4 207.0h.5M299.0 199.9h.5M293.9 205.1h.5M293.1 206.4h.5M293.7 204.7h.5M293.7 195.9h.5M289.4 214.8h.5M294.5 207.2h.5M298.0 208.9h.5M295.7 199.5h.5M293.5 194.1h.5M292.6 205.6h.5M284.6 202.7h.5M296.8 207.3h.5M289.6 199.2h.5M285.8 197.7h.5M295.6 210.3h.5M288.7 207.5h.5M295.1 199.9h.5M302.3 191.6h.5M293.1 202.8h.5M302.1 209.2h.5M302.6 202.4h.5M297.4 207.5h.5M295.5 203.4h.5M292.7 200.2h.5M288.4 209.9h.5M291.6 193.4h.5M294.5 201.8h.5M294.1 209.3h.5M293.0 200.8h.5M290.4 201.8h.5M291.6 202.7h.5M306.2 203.5h.5M289.9 209.8h.5M296.9 205.2h.5M296.3 205.2h.5M296.2 207.7h.5M297.5 207.4h.5M291.3 201.9h.5M290.4 205.8h.5M296.8 200.0h.5M295.8 212.6h.5M298.5 197.3h.5M293.0 204.5h.5M293.3 203.5h.5M298.2 203.2h.5M288.9 204.8h.5M293.0 202.4h.5M291.1 196.2h.5M288.3 200.5h.5M289.0 190.8h.5M298.1 197.1h.5M290.4 204.1h.5M283.5 207.4h.5M290.3 204.6h.5M291.4 203.2h.5M293.8 201.9h.5M285.9 195.9h.5M293.2 207.7h.5M291.2 204.1h.5M294.1 203.9h.5M297.5 195.8h.5M294.5 201.2h.5M292.1 198.4h.5M290.2 197.7h.5M288.9 212.2h.5M300.4 201.9h.5M296.4 197.9h.5M282.0 194.4h.5M303.8 206.8h.5M302.8 202.0h.5M301.6 202.1h.5M294.8 203.5h.5M300.7 202.4h.5M297.8 202.2h.5M304.4 206.7h.5M301.8 208.4h.5M293.5 204.5h.5M296.2 203.7h.5M303.6 205.1h.5M309.6 202.9h.5M295.7 203.6h.5M304.7 202.6h.5M308.2 207.3h.5M294.7 204.7h.5M308.9 200.3h.5M304.2 203.6h.5M294.7 206.6h.5M304.3 203.1h.5M305.6 205.3h.5M307.5 205.1h.5M305.4 201.7h.5M300.5 204.3h.5M286.8 208.2h.5M300.8 201.9h.5M292.4 204.5h.5M303.2 202.9h.5M300.6 202.3h.5M298.6 203.8h.5M299.2 205.3h.5M302.2 204.3h.5M305.4 206.5h.5M306.5 204.4h.5M302.0 202.4h.5M301.0 205.3h.5M304.3 203.2h.5M295.2 201.0h.5M304.9 206.0h.5M305.2 201.3h.5M301.8 204.4h.5M297.6 204.7h.5M301.8 202.4h.5M295.7 205.6h.5M305.1 202.3h.5M297.1 205.7h.5M306.5 203.4h.5M312.3 203.4h.5M296.8 206.1h.5M301.9 204.7h.5M303.2 202.0h.5M296.1 203.6h.5M311.2 202.0h.5M310.9 204.4h.5M296.5 204.5h.5M306.3 202.2h.5M290.6 204.7h.5M296.5 204.9h.5M291.8 203.7h.5M298.3 201.1h.5M301.6 204.3h.5M299.7 201.7h.5M304.2 200.6h.5M306.1 205.0h.5M312.8 205.7h.5M305.1 204.5h.5M303.2 201.4h.5M311.5 205.0h.5M301.3 201.8h.5M311.7 205.0h.5M296.1 205.3h.5M314.1 204.0h.5M305.3 203.2h.5M299.3 206.1h.5M320.9 204.2h.5M302.3 205.5h.5M301.2 205.4h.5M307.8 202.0h.5M296.8 203.9h.5M307.9 204.5h.5M310.2 201.3h.5M305.9 202.8h.5M303.6 204.6h.5M297.3 203.6h.5M296.2 204.5h.5M298.0 203.0h.5M304.3 202.7h.5M309.7 202.8h.5M307.9 204.5h.5M297.0 203.6h.5M291.0 176.3h.5M292.6 182.7h.5M292.2 182.0h.5M294.7 173.6h.5M286.7 179.4h.5M287.6 179.5h.5M296.4 178.5h.5M292.8 176.7h.5M294.2 176.5h.5M291.8 176.3h.5M296.8 175.6h.5M294.5 174.1h.5M291.3 173.4h.5M292.8 179.4h.5M294.3 176.0h.5M295.2 176.4h.5M294.5 178.2h.5M295.0 170.2h.5M289.6 179.6h.5M293.1 183.9h.5M292.7 175.8h.5M297.7 179.0h.5M298.9 178.9h.5M292.8 179.5h.5M291.1 176.1h.5M291.8 176.8h.5M295.7 176.0h.5M294.3 176.0h.5M296.0 169.4h.5M292.8 177.9h.5M290.3 180.3h.5M294.0 181.1h.5M296.2 179.3h.5M293.0 174.2h.5M292.8 176.1h.5M294.1 176.1h.5M302.3 172.8h.5M296.8 176.0h.5M292.7 180.1h.5M293.4 173.9h.5M294.6 176.8h.5M287.4 178.0h.5M290.3 175.2h.5M294.8 178.3h.5M292.6 183.7h.5M294.6 175.6h.5M294.1 177.0h.5M287.0 172.8h.5M289.4 183.4h.5M292.9 176.6h.5M291.8 180.2h.5M293.5 182.3h.5M295.7 182.2h.5M293.1 178.5h.5M292.1 176.9h.5M288.4 175.7h.5M290.6 175.5h.5M296.9 178.2h.5M296.9 179.9h.5M296.1 180.3h.5M293.9 199.0h.5M295.8 187.4h.5M306.1 210.8h.5M291.4 207.1h.5M303.6 184.6h.5M299.8 195.2h.5M300.5 188.9h.5M289.3 192.3h.5M303.8 198.8h.5M302.5 201.6h.5M291.3 191.6h.5M300.3 200.7h.5M299.1 196.5h.5M298.9 210.2h.5M283.3 191.8h.5M314.7 194.0h.5M285.6 193.2h.5M288.3 186.1h.5M299.5 206.9h.5M301.1 197.8h.5M304.9 193.7h.5M292.2 191.2h.5M300.3 189.6h.5M293.5 188.9h.5M287.9 183.1h.5M297.4 188.9h.5M298.3 204.2h.5M300.0 191.7h.5M290.1 182.7h.5M300.5 184.4h.5M300.9 182.7h.5M298.9 191.4h.5M304.7 188.6h.5M295.5 194.1h.5M298.4 206.6h.5M296.3 187.4h.5M295.8 196.1h.5M299.6 198.0h.5M288.7 213.5h.5M310.4 191.7h.5M289.9 193.3h.5M300.8 172.7h.5M298.1 179.2h.5M301.1 204.0h.5M305.0 179.0h.5M307.3 199.8h.5M295.6 196.3h.5M308.2 189.1h.5M297.9 187.2h.5M305.8 173.3h.5M307.6 183.6h.5M304.2 177.9h.5M291.7 186.8h.5M303.6 178.0h.5M302.1 186.5h.5M306.4 189.3h.5M301.3 190.5h.5M310.1 188.9h.5M297.8 209.2h.5M298.5 197.9h.5M293.0 193.7h.5M282.7 192.9h.5M293.6 179.0h.5M288.5 201.9h.5M300.9 178.9h.5M310.2 186.0h.5M295.5 194.1h.5M290.3 178.0h.5M293.0 202.2h.5M304.4 178.3h.5M306.1 192.3h.5M301.4 192.4h.5M300.8 183.3h.5M291.9 185.9h.5M295.5 197.4h.5M289.8 205.8h.5M293.7 186.9h.5M302.7 195.8h.5M295.7 182.7h.5M291.3 178.2h.5M305.7 201.4h.5M310.6 196.3h.5M300.2 198.6h.5M304.4 189.8h.5M300.4 210.7h.5M286.6 179.8h.5M291.5 198.5h.5M306.0 189.1h.5M302.5 191.6h.5M300.0 187.3h.5M297.8 192.0h.5M305.6 211.3h.5M285.8 196.6h.5M298.0 200.4h.5M305.2 198.8h.5M303.5 183.8h.5M286.5 206.5h.5M306.1 183.7h.5M306.7 197.8h.5M281.5 199.8h.5M291.3 202.1h.5M293.4 185.6h.5M287.6 190.1h.5M304.9 186.2h.5M285.5 210.6h.5M310.4 198.0h.5M294.4 181.5h.5M287.0 196.8h.5M306.8 182.8h.5M298.0 189.6h.5M307.5 199.8h.5M330.2 188.9h.5M318.2 205.5h.5M307.3 193.6h.5M297.1 205.4h.5M304.9 188.7h.5M310.6 186.7h.5M300.0 192.1h.5M324.3 193.0h.5M315.1 180.9h.5M291.2 212.5h.5M306.2 180.2h.5M309.0 200.9h.5M293.3 186.5h.5M312.5 186.1h.5M317.7 204.3h.5M314.3 190.9h.5M309.6 188.9h.5M308.7 198.1h.5M307.1 204.4h.5M313.3 202.9h.5M316.2 192.7h.5M305.4 204.7h.5M316.0 199.9h.5M302.2 201.1h.5M317.7 193.2h.5M316.2 216.0h.5M291.9 200.9h.5M298.7 181.8h.5M307.7 200.3h.5M310.5 183.7h.5M296.1 189.6h.5M310.1 187.0h.5M295.5 212.0h.5M301.9 193.5h.5M304.7 189.3h.5M310.4 192.1h.5M316.0 183.5h.5M295.6 213.9h.5" stroke="#111" stroke-width="0.55" stroke-opacity="0.8" fill="none"/>
<ellipse cx="247.8" cy="260.2" rx="10.5" ry="5.2" fill="url(#g)" opacity="1"/>
<ellipse cx="249" cy="260.2" rx="7.5" ry="3.4" fill="url(#g)" opacity="1"/>
<ellipse cx="250" cy="260.2" rx="5" ry="2.4" fill="url(#g)" opacity="0.7"/>
<ellipse cx="227.4" cy="269.5" rx="3" ry="14.5" fill="url(#g)" opacity="1"/>
<ellipse cx="227.4" cy="268" rx="1.9" ry="10" fill="url(#g)" opacity="0.6"/>
<ellipse cx="244" cy="280" rx="11" ry="1.8" fill="url(#g)" opacity="0.35"/>
<path d="M246.5 263.0h.5M254.4 262.2h.5M247.2 254.9h.5M236.9 263.7h.5M251.3 262.3h.5M236.6 252.9h.5M240.4 256.2h.5M248.0 256.7h.5M257.0 258.1h.5M243.5 263.3h.5M249.1 257.2h.5M252.2 267.0h.5M239.3 259.4h.5M240.2 253.5h.5M250.9 262.7h.5M253.1 261.8h.5M234.3 260.2h.5M242.8 256.2h.5M240.0 263.0h.5M245.1 267.2h.5M250.0 253.6h.5M252.6 264.7h.5M247.2 256.1h.5M258.2 255.7h.5M246.5 253.6h.5M239.1 254.3h.5M253.9 264.4h.5M244.4 255.6h.5M246.6 261.6h.5M237.3 256.2h.5M246.4 262.8h.5M247.5 261.9h.5M239.1 251.6h.5M249.0 257.1h.5M246.2 259.0h.5M250.0 257.6h.5M256.2 260.4h.5M250.4 262.5h.5M253.6 261.7h.5M235.9 258.1h.5M258.8 262.0h.5M250.6 261.9h.5M242.9 257.9h.5M242.9 264.4h.5M249.3 266.6h.5M250.2 267.0h.5M249.9 256.1h.5M258.1 261.5h.5M254.6 261.1h.5M244.9 260.9h.5M239.9 256.1h.5M241.3 258.4h.5M238.4 259.9h.5M248.9 267.5h.5M258.7 260.1h.5M252.6 259.5h.5M249.5 260.2h.5M243.6 260.6h.5M237.6 261.9h.5M245.2 256.5h.5M244.7 262.3h.5M242.7 262.0h.5M250.6 265.8h.5M240.1 259.9h.5M250.3 265.6h.5M248.7 263.0h.5M237.6 258.2h.5M257.6 259.3h.5M260.8 257.7h.5M245.2 254.6h.5M251.1 261.2h.5M259.9 260.9h.5M245.4 255.3h.5M246.5 263.7h.5M251.7 264.7h.5M252.5 260.1h.5M250.9 260.9h.5M238.5 266.4h.5M249.4 256.6h.5M249.5 261.3h.5M253.4 265.4h.5M227.5 262.3h.5M256.8 256.9h.5M235.1 261.3h.5M249.2 261.5h.5M239.9 258.6h.5M248.3 263.0h.5M261.1 261.3h.5M243.1 251.9h.5M253.9 259.8h.5M246.3 256.8h.5M251.7 253.9h.5M247.7 260.7h.5M248.9 265.0h.5M246.4 260.6h.5M252.5 254.8h.5M245.1 260.5h.5M253.2 257.4h.5M252.2 261.7h.5M237.4 255.0h.5M237.8 260.8h.5M248.3 262.9h.5M252.3 258.3h.5M253.9 263.2h.5M250.0 262.0h.5M238.7 261.6h.5M240.3 256.0h.5M244.7 260.8h.5M246.7 259.1h.5M240.5 261.0h.5M242.2 255.3h.5M247.6 265.5h.5M244.4 256.5h.5M255.9 266.4h.5M245.1 259.5h.5M248.4 270.9h.5M247.9 263.9h.5M249.9 253.8h.5M239.9 255.9h.5M249.8 260.7h.5M258.6 259.3h.5M249.0 260.6h.5M247.9 268.6h.5M248.8 265.6h.5M255.4 258.1h.5M251.4 258.9h.5M247.7 260.9h.5M247.1 258.6h.5M257.1 259.3h.5M251.6 266.3h.5M251.1 264.0h.5M256.0 264.2h.5M258.1 255.2h.5M259.7 260.4h.5M235.7 258.0h.5M238.0 260.2h.5M237.3 256.7h.5M248.9 260.9h.5M241.8 259.5h.5M246.4 260.6h.5M247.0 259.5h.5M252.7 254.5h.5M243.8 260.8h.5M244.4 258.3h.5M244.2 261.1h.5M255.1 259.6h.5M245.3 261.6h.5M245.4 253.3h.5M248.7 258.9h.5M243.3 262.6h.5M247.3 258.3h.5M232.9 254.1h.5M247.1 259.9h.5M249.8 261.1h.5M243.9 255.7h.5M239.9 259.8h.5M239.5 263.0h.5M238.4 253.9h.5M245.7 253.9h.5M257.6 256.7h.5M246.7 259.4h.5M241.7 253.9h.5M234.9 263.4h.5M253.6 268.1h.5M237.5 262.3h.5M246.9 263.3h.5M243.7 262.9h.5M252.8 262.5h.5M256.4 259.7h.5M257.0 257.8h.5M257.8 250.4h.5M247.1 257.4h.5M247.0 264.0h.5M251.7 260.6h.5M258.1 255.0h.5M241.7 265.7h.5M249.1 252.8h.5M249.2 256.0h.5M256.6 264.4h.5M243.4 265.0h.5M241.6 263.6h.5M250.8 259.8h.5M237.8 259.3h.5M232.1 258.3h.5M235.0 264.7h.5M240.7 251.5h.5M250.8 261.6h.5M243.7 267.9h.5M252.0 260.5h.5M242.8 249.7h.5M250.1 263.8h.5M243.2 255.2h.5M246.7 254.3h.5M247.0 263.1h.5M256.8 261.3h.5M248.3 263.0h.5M256.1 259.2h.5M239.0 257.5h.5M238.8 257.1h.5M246.2 261.5h.5M248.0 260.6h.5M244.7 261.8h.5M252.8 263.0h.5M256.7 259.3h.5M245.4 266.4h.5M248.3 261.8h.5M244.8 263.8h.5M244.4 256.7h.5M246.6 258.7h.5M252.4 258.9h.5M247.8 259.5h.5M249.2 258.0h.5M254.2 255.2h.5M244.5 257.7h.5M251.2 260.4h.5M250.2 259.1h.5M242.3 256.3h.5M244.8 258.4h.5M248.8 261.6h.5M253.4 259.9h.5M242.1 256.5h.5M247.4 261.6h.5M259.7 261.0h.5M258.4 267.0h.5M240.2 264.7h.5M254.4 265.1h.5M246.9 263.7h.5M243.9 260.0h.5M247.1 266.7h.5M245.6 263.7h.5M247.4 257.7h.5M248.6 262.7h.5M242.4 262.6h.5M242.4 257.1h.5M248.4 259.5h.5M240.6 254.4h.5M247.2 261.2h.5M244.0 261.0h.5M237.1 261.7h.5M249.7 261.3h.5M243.0 260.6h.5M247.8 264.1h.5M248.8 261.2h.5M242.3 263.4h.5M254.6 258.5h.5M251.2 261.4h.5M246.7 255.7h.5M258.4 253.6h.5M249.0 258.9h.5M254.4 258.8h.5M247.3 262.5h.5M250.0 258.4h.5M251.4 261.7h.5M253.4 258.5h.5M246.7 258.9h.5M241.6 261.2h.5M249.7 265.4h.5M244.9 261.7h.5M254.4 259.9h.5M247.4 260.8h.5M242.5 256.8h.5M254.2 260.9h.5M246.5 255.8h.5M247.8 264.5h.5M239.5 257.1h.5M254.2 265.4h.5M257.1 258.3h.5M250.9 257.6h.5M250.4 259.0h.5M248.3 265.1h.5M249.2 259.4h.5M247.4 261.3h.5M243.7 261.0h.5M250.9 265.9h.5M233.7 256.0h.5M239.0 263.4h.5M262.8 261.0h.5M247.8 264.4h.5M231.2 259.7h.5M226.9 260.9h.5M243.7 258.6h.5M249.2 258.2h.5M254.2 260.3h.5M249.5 269.4h.5M244.1 263.6h.5M241.7 264.8h.5M253.2 260.8h.5M253.4 266.1h.5M255.9 260.3h.5M246.6 264.3h.5M237.5 258.1h.5M250.1 262.3h.5M259.0 266.6h.5M249.1 261.9h.5M238.5 259.6h.5M248.7 259.5h.5M247.4 262.5h.5M240.9 258.3h.5M235.6 264.4h.5M240.2 254.2h.5M252.0 259.5h.5M253.2 259.0h.5M260.7 262.8h.5M248.0 260.7h.5M245.7 263.2h.5M259.9 258.8h.5M240.0 262.4h.5M253.9 255.0h.5M242.6 256.8h.5M250.6 262.1h.5M242.3 256.3h.5M251.4 253.0h.5M251.1 259.7h.5M259.3 263.8h.5M243.3 259.3h.5M245.2 257.7h.5M247.5 263.7h.5M237.3 259.5h.5M256.6 262.9h.5M241.8 257.4h.5M241.5 254.6h.5M254.4 260.5h.5M242.5 255.2h.5M244.5 258.5h.5M258.0 258.7h.5M247.7 264.1h.5M251.3 259.7h.5M233.0 265.3h.5M250.8 258.8h.5M246.4 256.9h.5M241.3 255.0h.5M250.2 262.1h.5M248.1 263.1h.5M250.4 260.7h.5M241.4 262.4h.5M254.6 262.5h.5M255.0 258.6h.5M240.7 264.7h.5M243.3 261.2h.5M245.8 260.4h.5M245.3 258.4h.5M235.6 267.0h.5M248.3 253.5h.5M241.2 256.3h.5M242.3 251.3h.5M250.7 266.1h.5M245.4 262.9h.5M250.8 255.9h.5M254.8 254.3h.5M243.3 259.0h.5M255.0 260.7h.5M246.2 257.5h.5M247.6 260.4h.5M251.7 265.2h.5M251.7 260.4h.5M246.0 265.9h.5M248.3 260.2h.5M258.4 265.8h.5M250.6 259.9h.5M243.0 264.1h.5M244.1 263.7h.5M242.0 260.7h.5M249.6 260.8h.5M248.5 261.6h.5M239.9 256.4h.5M246.1 266.7h.5M246.2 257.0h.5M242.8 260.4h.5M254.5 258.3h.5M250.6 261.0h.5M244.7 257.0h.5M246.0 257.8h.5M250.4 254.1h.5M254.2 263.0h.5M250.7 265.6h.5M250.8 254.3h.5M247.3 261.9h.5M242.7 256.3h.5M249.7 262.1h.5M244.3 259.4h.5M243.8 258.3h.5M246.6 264.1h.5M236.8 259.1h.5M257.2 261.4h.5M248.0 263.2h.5M240.6 256.1h.5M236.5 255.2h.5M248.6 263.3h.5M244.4 257.9h.5M249.6 262.5h.5M248.6 253.6h.5M243.5 251.4h.5M248.5 257.3h.5M242.8 265.6h.5M255.4 262.0h.5M248.7 260.9h.5M243.3 260.1h.5M259.1 257.2h.5M242.8 260.9h.5M252.6 263.2h.5M240.9 259.8h.5M245.3 256.0h.5M247.5 258.6h.5M252.8 261.8h.5M242.1 260.6h.5M244.7 258.1h.5M243.9 264.0h.5M244.4 254.3h.5M242.1 263.1h.5M260.6 256.6h.5M244.8 259.1h.5M238.1 261.7h.5M246.7 261.3h.5M261.2 259.4h.5M252.0 263.2h.5M243.0 258.2h.5M256.8 262.8h.5M247.9 256.5h.5M252.6 262.1h.5M260.9 265.5h.5M252.1 261.2h.5M247.4 258.4h.5M249.0 261.2h.5M251.1 264.1h.5M249.0 258.4h.5M252.1 265.7h.5M241.7 261.8h.5M250.5 262.2h.5M250.2 260.0h.5M246.4 266.2h.5M257.9 255.4h.5M231.0 261.8h.5M242.7 258.5h.5M236.9 261.5h.5M246.7 258.4h.5M252.7 268.8h.5M256.3 264.4h.5M244.4 262.6h.5M246.8 264.3h.5M250.7 260.2h.5M228.3 263.2h.5M228.7 282.7h.5M226.8 274.4h.5M224.6 277.7h.5M228.9 260.6h.5M230.3 270.5h.5M224.5 257.5h.5M228.8 267.1h.5M229.2 255.9h.5M227.2 278.0h.5M226.3 275.5h.5M226.8 272.5h.5M227.9 289.0h.5M225.4 276.3h.5M229.6 259.7h.5M227.5 289.7h.5M229.1 243.6h.5M227.0 254.6h.5M227.9 263.2h.5M226.5 262.2h.5M227.9 265.4h.5M225.9 267.5h.5M228.1 262.0h.5M229.2 255.0h.5M228.1 266.1h.5M230.0 263.9h.5M226.3 257.8h.5M230.7 274.9h.5M225.6 266.6h.5M225.8 282.8h.5M228.1 251.7h.5M227.7 277.5h.5M227.4 273.6h.5M227.2 271.3h.5M227.8 263.3h.5M228.0 270.9h.5M227.3 263.5h.5M225.7 271.7h.5M228.8 248.4h.5M226.5 281.3h.5M228.9 263.3h.5M229.6 260.9h.5M226.1 286.5h.5M226.7 267.6h.5M224.7 260.7h.5M225.5 268.3h.5M224.4 278.8h.5M226.8 264.2h.5M226.4 276.0h.5M229.9 265.9h.5M230.1 283.6h.5M229.6 272.1h.5M224.9 275.4h.5M226.7 271.2h.5M224.3 267.0h.5M227.8 261.3h.5M227.9 284.2h.5M227.8 263.5h.5M231.3 250.6h.5M225.9 273.1h.5M226.4 249.4h.5M227.8 276.8h.5M226.1 282.3h.5M228.2 279.9h.5M224.9 269.5h.5M230.0 287.2h.5M229.6 269.5h.5M227.7 264.0h.5M229.2 263.4h.5M227.6 251.4h.5M224.9 285.1h.5M227.5 271.4h.5M223.8 269.2h.5M230.8 256.4h.5M223.5 268.1h.5M226.5 267.7h.5M225.3 257.6h.5M225.4 275.1h.5M227.3 276.7h.5M225.6 274.7h.5M226.7 270.3h.5M228.9 269.8h.5M226.8 254.9h.5M227.5 276.4h.5M226.3 268.9h.5M224.5 257.8h.5M228.1 280.9h.5M226.9 254.8h.5M226.8 255.7h.5M226.9 286.5h.5M227.9 268.2h.5M229.1 266.2h.5M228.0 271.3h.5M228.1 256.5h.5M228.6 277.3h.5M223.6 245.6h.5M225.9 282.7h.5M227.4 275.5h.5M228.3 277.3h.5M226.3 264.3h.5M228.0 274.9h.5M228.4 272.5h.5M226.6 279.3h.5M228.2 278.9h.5M223.2 278.4h.5M223.3 271.4h.5M226.3 270.6h.5M226.6 266.8h.5M227.7 272.6h.5M226.1 247.1h.5M226.1 274.3h.5M226.0 273.3h.5M226.8 261.1h.5M229.4 284.2h.5M227.2 269.1h.5M229.0 257.7h.5M225.9 279.6h.5M228.9 265.1h.5M226.1 272.6h.5M225.0 265.1h.5M227.0 247.6h.5M228.4 276.3h.5M229.2 256.7h.5M225.2 262.2h.5M225.2 287.8h.5M225.8 266.7h.5M227.7 273.6h.5M229.8 259.8h.5M228.9 270.8h.5M225.4 270.8h.5M225.0 284.0h.5M226.2 278.5h.5M229.6 264.0h.5M225.9 270.7h.5M225.6 277.5h.5M227.7 262.7h.5M226.2 276.0h.5M225.0 284.6h.5M226.1 267.7h.5M225.8 284.0h.5M228.8 281.1h.5M228.5 270.3h.5M230.3 275.4h.5M228.1 274.7h.5M228.6 272.0h.5M227.1 255.2h.5M230.9 257.9h.5M223.8 263.1h.5M230.7 280.4h.5M226.4 271.9h.5M227.4 251.7h.5M226.8 272.1h.5M229.4 258.7h.5M223.6 255.4h.5M228.0 270.2h.5M227.7 270.8h.5M226.8 257.2h.5M228.2 273.0h.5M228.4 280.7h.5M225.3 248.5h.5M224.4 288.7h.5M225.8 273.1h.5M227.4 276.0h.5M232.9 264.9h.5M227.1 264.1h.5M227.8 274.2h.5M225.8 281.3h.5M229.3 273.5h.5M227.2 267.4h.5M224.6 275.4h.5M225.7 265.0h.5M229.1 261.2h.5M226.5 277.2h.5M230.6 263.3h.5M229.3 263.6h.5M228.1 273.9h.5M225.5 278.7h.5M230.5 270.0h.5M227.9 259.0h.5M230.4 270.1h.5M225.2 276.4h.5M224.9 263.3h.5M223.8 281.9h.5M231.2 263.8h.5M226.3 264.3h.5M226.4 274.5h.5M229.9 260.4h.5M228.1 253.3h.5M230.0 268.7h.5M226.2 283.3h.5M227.2 281.8h.5M229.2 284.4h.5M226.0 270.0h.5M228.0 267.8h.5M230.0 263.1h.5M229.1 281.8h.5M224.1 260.8h.5M225.9 264.6h.5M228.1 267.9h.5M227.5 265.4h.5M227.3 273.9h.5M228.7 262.5h.5M227.2 262.6h.5M227.1 256.6h.5M229.0 275.5h.5M227.2 263.3h.5M226.6 263.5h.5M224.8 284.2h.5M233.0 258.4h.5M225.4 274.7h.5M228.4 255.3h.5M224.1 274.4h.5M224.0 282.3h.5M226.6 270.3h.5M227.4 264.5h.5M227.2 266.8h.5M229.5 268.7h.5M227.3 264.7h.5M226.3 262.9h.5M227.4 286.0h.5M229.3 271.6h.5M230.2 278.6h.5M227.8 268.0h.5M225.5 271.7h.5M226.9 255.2h.5M225.2 286.9h.5M227.8 274.0h.5M227.7 265.3h.5M228.2 279.3h.5M226.9 274.1h.5M229.1 265.2h.5M227.7 262.8h.5M228.4 266.2h.5M229.3 262.6h.5M230.3 266.7h.5M226.0 261.4h.5M228.5 261.8h.5M230.5 281.0h.5M228.3 256.7h.5M227.4 263.0h.5M224.3 273.3h.5M231.1 264.7h.5M228.8 281.1h.5M225.8 266.4h.5M227.9 273.7h.5M225.5 271.4h.5M227.2 278.1h.5M224.7 264.4h.5M226.5 266.6h.5M228.6 263.8h.5M232.1 263.1h.5M228.8 278.7h.5M229.0 267.7h.5M226.0 267.2h.5M228.5 270.6h.5M228.4 274.7h.5M225.9 261.1h.5M229.9 265.1h.5M224.7 286.2h.5M226.0 261.1h.5M229.0 259.3h.5M225.9 278.9h.5M227.6 270.0h.5M226.3 267.5h.5M226.5 269.3h.5M228.7 258.1h.5M225.8 250.7h.5M230.0 268.8h.5M227.4 269.0h.5M229.1 272.4h.5M228.8 268.0h.5M227.2 269.0h.5M224.2 279.3h.5M224.7 260.5h.5M228.5 270.0h.5M228.8 284.9h.5M230.6 281.9h.5M227.0 287.9h.5M225.9 268.7h.5M229.1 267.6h.5M227.2 266.3h.5M229.7 247.3h.5M229.6 279.0h.5M227.3 274.6h.5M225.8 279.5h.5M232.6 261.2h.5M229.8 269.0h.5M226.8 265.1h.5M227.1 258.2h.5M225.1 284.5h.5M227.4 274.5h.5M227.9 273.8h.5M224.8 261.0h.5M228.5 278.5h.5M225.5 264.3h.5M225.6 275.4h.5M228.0 269.8h.5M226.3 272.6h.5M227.5 262.8h.5M228.0 263.5h.5M229.0 275.1h.5M226.2 274.8h.5M227.5 263.1h.5M225.8 254.5h.5M225.5 272.6h.5M229.5 263.8h.5M227.7 272.6h.5M228.7 273.5h.5M229.5 276.4h.5M226.1 273.1h.5M223.4 267.9h.5M227.4 274.7h.5M226.9 277.0h.5M229.6 261.9h.5M226.5 271.8h.5M228.2 270.8h.5M228.8 258.9h.5M228.7 280.0h.5M239.4 261.8h.5M234.0 261.7h.5M234.7 255.7h.5M232.6 260.4h.5M232.9 257.7h.5M234.1 259.4h.5M235.3 260.4h.5M235.7 263.5h.5M235.5 261.7h.5M230.1 251.7h.5M233.4 262.5h.5M233.6 258.6h.5M230.0 263.2h.5M232.9 261.2h.5M239.5 262.1h.5M244.0 260.1h.5M238.8 262.6h.5M232.4 260.6h.5M232.7 257.4h.5M236.2 258.2h.5M241.7 258.3h.5M232.8 260.8h.5M232.9 260.7h.5M232.6 256.2h.5M225.3 256.6h.5M241.1 261.8h.5M235.6 259.1h.5M234.4 261.4h.5M229.4 258.1h.5M231.4 264.3h.5M230.8 264.0h.5M233.1 268.7h.5M234.7 260.6h.5M240.4 263.1h.5M238.8 257.3h.5M239.5 265.5h.5M234.6 259.0h.5M230.6 263.6h.5M236.2 260.5h.5M230.1 265.4h.5M238.5 260.4h.5M240.9 257.6h.5M238.5 257.5h.5M240.6 259.7h.5M239.9 259.3h.5M236.6 263.9h.5M231.4 260.8h.5M231.6 263.1h.5M232.6 259.4h.5M234.2 264.0h.5M230.8 260.4h.5M233.7 258.9h.5M231.9 260.0h.5M235.8 255.9h.5M235.9 256.9h.5M235.1 267.3h.5M231.1 260.3h.5M234.0 263.4h.5M233.1 255.1h.5M228.6 261.0h.5M236.0 263.7h.5M232.9 262.5h.5M230.7 264.4h.5M234.7 258.5h.5M235.7 265.7h.5M231.6 256.8h.5M230.9 257.0h.5M234.8 261.6h.5M234.3 261.1h.5M239.7 259.6h.5M230.0 253.6h.5M236.0 258.5h.5M234.0 261.7h.5M236.9 255.8h.5M231.2 260.7h.5M234.4 263.9h.5M233.0 254.3h.5M239.7 255.6h.5M231.1 261.7h.5M230.8 268.0h.5M236.0 262.1h.5M233.3 267.2h.5M237.2 258.3h.5M240.0 255.4h.5M232.7 261.4h.5M235.6 257.6h.5M241.3 264.9h.5M231.3 261.6h.5M232.5 259.2h.5M238.9 260.9h.5M242.1 280.1h.5M233.6 281.5h.5M237.0 281.6h.5M239.3 279.5h.5M254.9 280.2h.5M237.9 279.4h.5M247.8 282.2h.5M247.9 279.5h.5M234.0 279.2h.5M242.0 280.3h.5M237.8 281.5h.5M235.3 279.1h.5M247.0 280.6h.5M239.9 281.2h.5M231.7 282.0h.5M260.5 282.3h.5M244.0 282.4h.5M243.4 281.6h.5M241.4 280.2h.5M247.2 277.9h.5M241.3 282.1h.5M219.6 280.5h.5M250.4 280.4h.5M244.6 281.7h.5M245.7 277.7h.5M235.4 279.6h.5M244.2 279.5h.5M242.2 282.0h.5M219.5 281.4h.5M250.5 280.7h.5M243.1 280.1h.5M245.9 280.3h.5M237.2 280.9h.5M236.4 280.0h.5M240.1 278.6h.5M247.8 279.9h.5M233.7 279.9h.5M232.0 281.7h.5M247.1 282.4h.5M238.5 280.8h.5M235.3 279.0h.5M242.3 280.5h.5M250.4 279.7h.5M251.8 281.2h.5M236.0 279.8h.5M235.7 282.0h.5M238.6 281.1h.5M250.3 279.7h.5M239.1 280.4h.5M236.8 278.5h.5M235.3 280.4h.5M244.5 282.1h.5M228.4 280.6h.5M233.8 281.4h.5M248.5 280.2h.5M254.7 279.6h.5M238.8 278.7h.5M237.8 280.1h.5M248.4 281.5h.5M240.9 279.1h.5M240.3 279.5h.5M239.3 279.5h.5M236.1 279.9h.5M238.9 279.8h.5M232.0 280.2h.5M247.6 280.8h.5M238.6 278.6h.5M232.7 278.6h.5M237.9 279.6h.5M228.9 280.8h.5M230.8 279.2h.5M237.3 281.0h.5M257.6 279.6h.5M240.8 279.5h.5M241.4 279.8h.5M262.6 278.7h.5M242.1 279.1h.5M245.8 279.4h.5M247.6 278.7h.5M259.7 280.2h.5M229.0 280.8h.5M239.3 278.6h.5M246.5 279.4h.5M248.8 279.4h.5M250.2 280.2h.5M245.8 280.2h.5M240.1 279.6h.5M246.6 280.8h.5M239.8 282.7h.5M256.4 278.6h.5M251.6 279.9h.5M244.8 279.1h.5M256.1 279.0h.5M242.4 279.1h.5M258.3 281.5h.5M232.6 279.5h.5M245.9 279.5h.5M240.2 278.7h.5M245.0 278.7h.5M249.6 282.8h.5M240.4 281.9h.5M245.9 279.2h.5M240.3 278.9h.5M243.9 280.8h.5M250.3 279.7h.5M233.6 279.9h.5M256.2 280.3h.5M242.5 277.5h.5M239.6 280.6h.5M235.5 281.6h.5M238.5 279.0h.5M238.4 279.9h.5M250.9 279.3h.5M228.9 279.9h.5M247.1 281.8h.5M234.2 281.7h.5M248.3 280.5h.5M237.0 279.0h.5M235.5 281.1h.5M244.7 281.3h.5M260.1 261.1h.5M243.6 274.2h.5M232.4 257.9h.5M240.7 258.4h.5M245.3 255.3h.5M254.3 251.7h.5M236.8 249.4h.5M231.6 265.1h.5M249.6 259.7h.5M251.5 265.3h.5M238.9 260.8h.5M247.3 274.8h.5M240.1 263.6h.5M248.8 269.4h.5M247.8 268.4h.5M234.6 259.2h.5M226.9 260.7h.5M264.6 262.7h.5M244.8 262.9h.5M245.3 252.0h.5M237.9 259.8h.5M245.5 255.1h.5M243.1 256.0h.5M232.3 256.5h.5M236.9 266.8h.5M255.9 265.0h.5M242.1 257.2h.5M230.1 257.4h.5M257.8 268.9h.5M246.0 259.4h.5M244.0 263.9h.5M243.9 264.0h.5M237.2 261.4h.5M240.9 268.4h.5M233.0 269.9h.5M243.2 257.6h.5M244.2 261.9h.5M241.9 263.9h.5M238.9 249.5h.5M250.2 260.9h.5M258.7 263.7h.5M226.3 269.5h.5M237.9 264.8h.5M263.6 268.5h.5M234.3 260.4h.5M229.8 265.6h.5M249.0 254.0h.5M248.0 267.4h.5M251.1 256.5h.5M237.9 253.4h.5M232.6 263.2h.5M244.4 269.9h.5M246.4 258.9h.5M231.4 271.6h.5M245.5 260.8h.5M235.1 253.9h.5M249.6 254.4h.5M249.2 265.3h.5M240.6 250.0h.5M247.6 270.6h.5M236.7 252.5h.5M253.6 262.0h.5M238.5 269.4h.5M241.6 264.1h.5M240.4 255.9h.5M245.9 255.2h.5M228.3 257.4h.5M254.9 268.5h.5M263.2 267.8h.5M258.3 262.8h.5M240.2 264.2h.5M235.6 266.1h.5M240.0 262.8h.5M236.5 260.2h.5M252.7 259.6h.5M238.1 263.0h.5M251.8 259.8h.5M233.7 250.5h.5M232.2 268.3h.5M243.2 264.3h.5M253.5 263.0h.5M248.3 257.6h.5M229.8 265.3h.5M243.2 265.0h.5M234.6 260.1h.5M261.8 255.4h.5M244.9 270.0h.5M242.0 261.9h.5M225.2 266.3h.5M240.1 269.8h.5M243.2 258.6h.5M247.8 259.5h.5M239.5 271.5h.5M252.7 261.8h.5M251.1 266.7h.5M249.1 261.4h.5M244.6 263.8h.5M249.0 263.5h.5M239.1 260.6h.5M248.0 254.4h.5M243.9 266.2h.5M245.5 259.2h.5M243.8 257.8h.5M252.7 258.6h.5M229.3 253.0h.5M246.6 262.5h.5M239.8 252.3h.5M242.7 255.4h.5M238.2 261.1h.5M237.2 263.2h.5M237.5 258.0h.5M242.0 270.9h.5M257.9 267.4h.5M237.5 261.1h.5M252.1 266.5h.5M229.7 260.7h.5M237.5 266.1h.5M249.6 257.5h.5M262.9 259.2h.5M265.5 260.0h.5M243.3 273.8h.5M239.4 257.9h.5M257.0 260.8h.5M248.2 252.7h.5M259.8 267.7h.5M247.1 265.8h.5M239.6 257.9h.5M230.2 263.6h.5M254.9 266.8h.5M252.1 265.9h.5M235.9 245.8h.5M249.6 252.9h.5M252.7 250.8h.5M236.2 254.2h.5M239.1 244.3h.5M238.6 247.9h.5M234.2 249.5h.5M252.4 263.3h.5M259.2 250.1h.5M254.1 251.7h.5M247.5 248.9h.5M243.3 244.1h.5M259.8 248.4h.5M249.2 249.3h.5M246.4 246.5h.5M240.7 256.4h.5M249.2 242.8h.5M251.5 245.8h.5M246.5 254.6h.5M238.3 250.6h.5M241.8 254.0h.5M252.1 258.6h.5M246.9 261.6h.5M235.7 260.5h.5M241.7 255.7h.5M242.9 252.5h.5M235.9 253.9h.5M261.8 252.8h.5M243.8 252.1h.5M250.3 251.1h.5" stroke="#111" stroke-width="0.55" stroke-opacity="0.8" fill="none"/>
<ellipse cx="318" cy="257.6" rx="7" ry="7.5" fill="url(#g)" opacity="1"/>
<ellipse cx="318.5" cy="257" rx="4.4" ry="5.4" fill="url(#g)" opacity="1"/>
<ellipse cx="318.6" cy="256.5" rx="2.6" ry="3.4" fill="url(#g)" opacity="0.6"/>
<ellipse cx="292.6" cy="265" rx="4" ry="14.5" fill="url(#g)" opacity="1"/>
<ellipse cx="292.6" cy="261" rx="2.4" ry="8" fill="url(#g)" opacity="0.6"/>
<ellipse cx="305.5" cy="279.6" rx="17" ry="3" fill="url(#g)" opacity="0.85"/>
<ellipse cx="300" cy="279.6" rx="10" ry="1.8" fill="url(#g)" opacity="0.7"/>
<ellipse cx="307" cy="263" rx="13" ry="10" fill="url(#g)" opacity="0.55"/>
<path d="M316.5 259.9h.5M324.2 264.5h.5M310.3 254.7h.5M316.6 263.8h.5M322.2 257.3h.5M329.0 257.6h.5M324.8 267.4h.5M325.9 259.8h.5M319.9 249.2h.5M306.0 254.8h.5M320.7 265.2h.5M315.9 265.0h.5M319.9 268.0h.5M307.2 253.5h.5M310.9 252.2h.5M326.2 252.9h.5M311.6 256.1h.5M321.7 255.8h.5M320.8 262.0h.5M312.7 244.0h.5M311.1 250.9h.5M326.1 254.2h.5M310.2 260.9h.5M316.8 252.8h.5M322.9 264.3h.5M318.1 253.9h.5M311.4 245.9h.5M318.8 261.0h.5M311.1 258.8h.5M306.5 262.4h.5M314.0 255.5h.5M320.2 257.8h.5M322.3 261.8h.5M323.3 259.3h.5M303.8 267.0h.5M306.5 265.0h.5M318.0 250.0h.5M316.9 264.0h.5M310.5 258.8h.5M312.2 252.4h.5M312.9 266.5h.5M320.5 258.4h.5M316.0 259.4h.5M318.2 259.7h.5M306.4 264.3h.5M311.5 242.5h.5M320.6 251.1h.5M315.7 258.0h.5M313.0 261.9h.5M314.9 256.9h.5M310.9 256.8h.5M310.4 258.8h.5M324.3 264.8h.5M319.0 250.2h.5M322.6 264.3h.5M328.6 244.7h.5M316.6 256.5h.5M322.9 251.9h.5M314.3 272.9h.5M322.4 246.2h.5M316.6 267.0h.5M312.9 262.3h.5M317.1 249.5h.5M312.8 265.6h.5M323.5 254.8h.5M323.1 254.2h.5M318.0 258.4h.5M309.1 260.6h.5M314.2 241.6h.5M311.6 253.3h.5M311.6 252.5h.5M312.4 243.4h.5M321.8 259.0h.5M318.0 256.9h.5M316.9 256.9h.5M310.1 249.1h.5M316.9 264.9h.5M317.9 268.5h.5M308.4 256.9h.5M312.9 266.2h.5M326.5 255.3h.5M320.8 257.0h.5M310.6 257.9h.5M310.4 268.2h.5M320.0 265.9h.5M318.6 243.5h.5M321.2 259.1h.5M302.4 259.2h.5M322.5 269.2h.5M310.5 263.4h.5M318.5 257.5h.5M314.8 261.8h.5M319.9 262.6h.5M314.1 250.3h.5M324.3 266.6h.5M313.2 258.3h.5M321.3 247.6h.5M319.4 273.6h.5M318.1 254.1h.5M328.6 258.6h.5M317.8 255.9h.5M317.6 247.4h.5M308.9 249.3h.5M321.8 257.9h.5M323.3 245.8h.5M313.0 267.6h.5M311.8 246.9h.5M312.1 256.4h.5M316.4 266.6h.5M324.3 268.2h.5M319.9 255.4h.5M313.6 249.3h.5M324.0 266.3h.5M317.0 253.0h.5M320.5 261.6h.5M317.4 251.3h.5M317.9 255.0h.5M320.9 262.2h.5M319.1 255.9h.5M325.5 263.3h.5M324.0 263.7h.5M320.4 261.0h.5M310.2 247.2h.5M311.0 262.3h.5M321.9 259.7h.5M317.0 269.9h.5M314.2 247.4h.5M307.4 256.5h.5M320.6 263.1h.5M315.2 263.6h.5M316.2 254.0h.5M314.3 263.2h.5M322.1 251.5h.5M310.7 259.3h.5M329.0 251.2h.5M309.1 261.1h.5M319.5 254.7h.5M316.3 261.5h.5M306.2 258.4h.5M320.0 264.3h.5M323.4 258.1h.5M308.0 266.9h.5M321.0 254.5h.5M322.6 265.0h.5M315.7 243.8h.5M313.7 253.8h.5M311.6 258.0h.5M310.1 260.9h.5M327.6 251.1h.5M322.6 255.2h.5M319.7 257.7h.5M324.0 254.1h.5M320.8 253.7h.5M317.8 258.4h.5M322.9 248.7h.5M308.6 267.2h.5M318.8 269.1h.5M310.4 259.8h.5M320.0 269.5h.5M316.2 255.7h.5M320.7 257.9h.5M312.1 263.3h.5M305.3 252.2h.5M324.5 255.4h.5M314.6 260.8h.5M323.1 261.8h.5M310.8 255.0h.5M322.7 257.8h.5M312.8 263.9h.5M323.2 272.1h.5M310.2 254.1h.5M312.4 260.7h.5M313.7 265.5h.5M300.7 264.5h.5M312.7 256.8h.5M319.8 259.8h.5M310.6 267.9h.5M319.9 255.4h.5M317.7 251.6h.5M309.3 256.6h.5M318.6 259.1h.5M312.0 249.9h.5M306.7 268.5h.5M318.7 253.5h.5M323.5 261.9h.5M314.1 254.7h.5M323.2 260.5h.5M326.1 260.8h.5M313.1 254.8h.5M312.4 260.1h.5M318.0 262.3h.5M319.1 252.0h.5M315.3 252.6h.5M319.3 250.3h.5M313.1 253.2h.5M312.9 256.9h.5M325.3 256.9h.5M308.1 256.6h.5M320.9 262.0h.5M317.9 270.9h.5M323.0 259.1h.5M323.6 250.2h.5M315.5 253.1h.5M317.5 268.6h.5M313.6 268.4h.5M310.5 267.4h.5M306.6 253.2h.5M322.3 257.9h.5M317.3 258.4h.5M317.6 257.4h.5M310.8 256.7h.5M317.1 252.9h.5M319.2 269.5h.5M306.9 255.1h.5M314.9 258.6h.5M317.1 254.0h.5M316.3 258.5h.5M316.0 268.1h.5M317.3 249.3h.5M307.4 262.2h.5M314.5 254.6h.5M308.6 256.6h.5M316.0 254.2h.5M314.5 264.0h.5M321.1 261.9h.5M315.5 250.0h.5M321.0 267.8h.5M323.9 265.8h.5M318.1 260.8h.5M316.4 266.3h.5M314.9 271.9h.5M321.0 256.5h.5M316.5 248.5h.5M312.2 256.6h.5M330.8 253.4h.5M321.9 259.0h.5M314.8 262.4h.5M304.9 264.4h.5M327.8 260.3h.5M316.1 259.5h.5M320.4 255.4h.5M317.2 261.6h.5M314.5 260.9h.5M318.4 263.0h.5M310.8 255.2h.5M314.0 266.0h.5M318.0 248.2h.5M309.1 270.6h.5M318.5 250.4h.5M311.2 259.4h.5M324.8 268.6h.5M314.4 256.6h.5M327.7 252.4h.5M325.6 260.6h.5M317.1 266.5h.5M319.3 253.3h.5M307.6 258.6h.5M319.5 267.0h.5M301.3 266.9h.5M320.1 268.0h.5M321.1 259.8h.5M319.0 261.0h.5M312.8 257.8h.5M317.2 255.7h.5M308.0 249.5h.5M319.4 261.8h.5M317.1 251.2h.5M321.5 256.1h.5M304.4 268.3h.5M307.8 272.6h.5M319.6 255.8h.5M302.8 254.1h.5M325.1 267.0h.5M318.0 247.8h.5M314.3 256.7h.5M319.2 257.7h.5M318.5 248.3h.5M312.8 267.5h.5M308.0 264.3h.5M330.0 262.6h.5M308.4 266.3h.5M305.7 260.6h.5M314.1 266.2h.5M323.4 259.7h.5M326.9 264.6h.5M313.7 252.4h.5M330.8 256.0h.5M318.9 257.8h.5M313.7 248.5h.5M315.7 257.8h.5M322.2 255.3h.5M307.4 251.8h.5M316.3 260.1h.5M320.7 256.1h.5M319.6 259.4h.5M326.3 258.2h.5M317.3 262.0h.5M323.6 252.7h.5M313.7 256.8h.5M304.1 266.7h.5M322.8 258.6h.5M328.3 268.3h.5M321.8 249.6h.5M325.4 261.1h.5M309.5 258.8h.5M320.9 264.7h.5M317.5 255.2h.5M321.0 253.7h.5M316.1 263.3h.5M308.1 260.8h.5M305.1 252.7h.5M309.3 257.9h.5M320.7 258.2h.5M321.8 259.1h.5M315.3 261.6h.5M315.1 259.3h.5M322.6 254.9h.5M323.2 251.6h.5M315.2 247.6h.5M313.4 268.5h.5M318.6 266.5h.5M307.9 252.2h.5M319.2 263.7h.5M321.4 248.0h.5M319.5 258.0h.5M317.2 261.5h.5M314.9 247.9h.5M310.3 249.4h.5M308.8 257.7h.5M324.1 254.0h.5M312.0 251.3h.5M306.4 258.9h.5M313.7 257.0h.5M310.9 261.6h.5M309.5 261.9h.5M312.6 263.4h.5M311.3 261.3h.5M319.1 258.0h.5M326.0 259.6h.5M311.3 262.8h.5M311.7 255.1h.5M316.6 259.6h.5M326.5 247.5h.5M315.0 265.6h.5M315.6 260.5h.5M325.4 250.8h.5M316.8 263.5h.5M313.1 247.5h.5M310.7 259.7h.5M317.6 270.1h.5M324.3 248.8h.5M322.6 264.2h.5M326.0 257.5h.5M313.2 259.4h.5M325.5 262.4h.5M326.4 263.4h.5M313.1 252.1h.5M327.3 249.0h.5M314.5 256.5h.5M311.2 254.9h.5M316.5 273.4h.5M316.1 255.2h.5M317.2 264.4h.5M311.7 256.0h.5M306.3 262.9h.5M320.5 267.9h.5M309.5 272.2h.5M321.6 256.8h.5M314.2 256.6h.5M309.4 263.3h.5M312.9 254.0h.5M319.5 259.2h.5M313.1 257.0h.5M313.6 267.0h.5M322.4 253.9h.5M316.3 267.1h.5M314.8 269.7h.5M319.1 262.7h.5M304.4 263.8h.5M318.5 262.2h.5M319.3 261.8h.5M313.5 264.2h.5M316.9 251.9h.5M310.5 259.5h.5M318.5 244.6h.5M304.4 265.1h.5M316.4 276.4h.5M307.5 256.9h.5M313.0 262.0h.5M324.7 268.7h.5M310.6 266.3h.5M309.4 260.4h.5M317.5 262.4h.5M311.8 266.9h.5M316.1 258.4h.5M314.9 251.8h.5M320.7 260.6h.5M319.2 270.2h.5M311.4 256.7h.5M316.5 263.9h.5M315.5 264.4h.5M319.2 247.4h.5M312.5 245.7h.5M314.8 255.9h.5M320.0 259.6h.5M316.1 266.5h.5M320.0 250.7h.5M312.5 260.6h.5M326.5 257.3h.5M315.5 260.2h.5M321.1 257.9h.5M318.2 255.8h.5M313.3 253.5h.5M320.4 255.0h.5M319.7 261.1h.5M322.2 241.6h.5M310.8 250.8h.5M315.5 263.6h.5M297.7 281.0h.5M295.5 269.7h.5M292.0 271.2h.5M288.5 275.0h.5M292.8 272.0h.5M290.8 255.4h.5M291.5 265.6h.5M293.5 262.6h.5M293.5 272.6h.5M290.5 265.0h.5M289.8 260.7h.5M294.6 259.1h.5M296.4 270.9h.5M294.5 267.0h.5M294.5 276.6h.5M293.0 260.9h.5M291.7 284.8h.5M292.4 261.6h.5M291.4 249.6h.5M291.8 269.2h.5M291.9 258.6h.5M293.6 270.5h.5M291.9 269.0h.5M290.9 274.4h.5M290.9 262.7h.5M293.1 261.9h.5M290.6 286.4h.5M295.8 249.0h.5M293.0 253.7h.5M293.4 253.3h.5M293.9 271.2h.5M296.1 277.7h.5M291.9 275.2h.5M291.9 264.9h.5M291.8 248.9h.5M294.0 246.2h.5M292.3 271.1h.5M293.0 250.7h.5M291.5 272.6h.5M294.9 281.5h.5M289.3 270.5h.5M291.9 273.4h.5M289.5 264.6h.5M294.2 259.7h.5M292.1 256.5h.5M295.0 253.1h.5M291.0 262.8h.5M292.2 286.6h.5M293.3 257.9h.5M293.9 269.3h.5M293.4 265.4h.5M293.7 254.6h.5M290.5 261.9h.5M290.6 272.8h.5M296.6 278.0h.5M293.7 269.3h.5M291.5 253.4h.5M293.9 251.6h.5M293.4 264.6h.5M294.3 266.5h.5M293.0 260.3h.5M289.4 262.7h.5M294.2 276.2h.5M295.5 256.3h.5M291.0 272.8h.5M291.9 291.0h.5M293.4 251.2h.5M291.7 281.3h.5M289.2 267.5h.5M290.1 281.6h.5M291.9 256.0h.5M289.5 259.1h.5M287.8 261.4h.5M297.1 267.0h.5M292.3 254.7h.5M293.5 261.4h.5M291.1 279.5h.5M293.7 257.3h.5M295.7 265.5h.5M293.8 267.4h.5M295.1 272.0h.5M292.1 273.0h.5M292.0 267.3h.5M296.0 255.7h.5M290.8 262.1h.5M291.8 278.7h.5M289.7 288.4h.5M295.9 261.6h.5M293.2 262.5h.5M294.1 272.5h.5M294.3 273.5h.5M296.6 264.3h.5M294.2 264.2h.5M292.9 268.1h.5M292.7 269.4h.5M291.1 264.5h.5M291.6 254.6h.5M291.4 261.2h.5M292.5 250.8h.5M292.3 255.0h.5M291.2 267.8h.5M295.0 268.8h.5M291.8 261.7h.5M295.4 250.2h.5M295.0 251.4h.5M291.6 266.5h.5M292.4 282.2h.5M293.8 265.5h.5M294.7 266.4h.5M291.2 277.0h.5M295.7 278.5h.5M290.5 284.6h.5M292.0 273.5h.5M295.1 289.2h.5M289.6 256.0h.5M295.1 270.8h.5M293.7 264.2h.5M287.9 260.5h.5M292.8 268.3h.5M294.3 263.4h.5M291.0 262.5h.5M288.7 255.1h.5M296.7 259.3h.5M292.6 284.5h.5M294.9 267.2h.5M294.2 263.4h.5M291.0 275.8h.5M293.1 281.6h.5M292.3 262.3h.5M293.5 264.1h.5M292.2 257.3h.5M293.3 269.2h.5M296.4 265.7h.5M289.4 270.6h.5M297.3 261.7h.5M291.2 264.4h.5M287.2 262.7h.5M292.4 251.2h.5M293.9 257.4h.5M289.2 259.0h.5M294.0 284.8h.5M295.3 267.9h.5M291.8 263.5h.5M294.7 260.9h.5M293.6 275.5h.5M291.0 260.2h.5M293.7 266.1h.5M292.6 260.8h.5M292.7 284.1h.5M295.5 250.2h.5M292.9 266.9h.5M292.9 252.5h.5M292.5 267.5h.5M291.5 269.1h.5M288.0 251.3h.5M293.0 269.8h.5M292.5 261.5h.5M293.2 276.6h.5M294.6 265.2h.5M291.9 276.4h.5M293.9 274.6h.5M292.3 257.6h.5M293.2 259.9h.5M295.1 274.4h.5M288.5 272.5h.5M295.4 276.2h.5M291.9 257.6h.5M294.7 275.9h.5M292.9 254.7h.5M289.8 268.6h.5M291.2 259.3h.5M293.7 276.3h.5M288.7 259.4h.5M295.4 265.6h.5M292.1 272.3h.5M290.6 254.0h.5M292.8 281.3h.5M294.8 266.0h.5M294.8 262.0h.5M290.5 249.6h.5M293.3 274.8h.5M293.5 265.6h.5M292.0 276.7h.5M292.7 251.9h.5M295.5 259.6h.5M293.6 266.0h.5M294.9 268.4h.5M295.2 268.1h.5M291.9 261.0h.5M294.1 257.9h.5M294.6 263.7h.5M291.0 257.4h.5M292.5 283.3h.5M294.3 266.2h.5M291.0 284.7h.5M292.3 266.0h.5M292.0 279.1h.5M293.1 261.5h.5M293.2 256.2h.5M290.7 264.4h.5M287.1 277.5h.5M296.7 255.1h.5M292.5 250.5h.5M293.1 268.1h.5M294.3 252.9h.5M291.6 259.7h.5M292.3 288.4h.5M292.4 265.6h.5M291.8 273.8h.5M297.8 277.4h.5M295.8 255.5h.5M294.9 266.3h.5M295.3 276.4h.5M294.1 249.6h.5M293.1 261.1h.5M293.7 266.4h.5M294.9 250.3h.5M291.3 265.3h.5M293.4 262.0h.5M292.7 266.5h.5M294.9 264.9h.5M293.3 248.2h.5M287.7 251.6h.5M293.5 243.4h.5M293.6 265.1h.5M292.8 258.8h.5M292.0 274.2h.5M293.5 265.7h.5M291.8 268.1h.5M295.1 265.8h.5M292.1 254.4h.5M293.0 257.0h.5M290.0 274.5h.5M291.6 246.0h.5M291.4 284.1h.5M292.6 253.0h.5M290.6 273.1h.5M293.6 268.1h.5M292.4 270.8h.5M295.8 270.8h.5M292.5 252.3h.5M293.7 281.4h.5M294.1 253.7h.5M293.2 278.8h.5M291.6 270.9h.5M295.2 282.1h.5M289.7 248.8h.5M293.5 272.9h.5M292.1 265.8h.5M292.0 277.8h.5M288.4 268.5h.5M290.3 259.3h.5M289.8 257.1h.5M292.8 266.3h.5M296.3 263.8h.5M293.5 269.5h.5M293.3 280.4h.5M293.1 267.5h.5M292.6 266.0h.5M292.7 275.8h.5M292.8 266.7h.5M292.7 273.5h.5M291.9 275.2h.5M291.7 272.8h.5M296.6 268.3h.5M292.6 254.4h.5M294.3 266.1h.5M294.6 259.5h.5M293.8 283.8h.5M293.6 262.8h.5M290.2 265.9h.5M294.1 271.9h.5M290.6 255.9h.5M290.9 255.9h.5M292.3 268.6h.5M296.6 267.9h.5M295.7 249.7h.5M295.8 273.9h.5M293.7 274.1h.5M294.0 284.9h.5M294.4 248.8h.5M289.4 281.9h.5M292.6 279.0h.5M292.1 259.5h.5M292.1 269.1h.5M293.2 259.9h.5M293.9 272.1h.5M291.0 255.0h.5M288.9 263.0h.5M292.8 259.1h.5M291.6 264.7h.5M292.9 271.6h.5M294.4 270.3h.5M295.0 256.4h.5M294.0 269.7h.5M290.7 259.3h.5M293.7 266.7h.5M290.3 260.5h.5M320.8 281.2h.5M305.8 282.0h.5M295.6 279.7h.5M314.9 279.5h.5M293.4 280.9h.5M321.6 276.2h.5M306.6 278.1h.5M301.9 277.9h.5M305.5 279.0h.5M294.7 279.3h.5M307.2 282.6h.5M308.0 282.3h.5M293.9 280.1h.5M300.5 277.7h.5M307.5 278.9h.5M299.0 278.5h.5M315.6 279.4h.5M303.5 280.3h.5M292.3 280.3h.5M303.2 280.7h.5M301.0 280.1h.5M310.4 281.4h.5M297.8 281.4h.5M294.8 279.7h.5M306.4 280.2h.5M303.1 281.4h.5M297.7 282.2h.5M286.3 280.1h.5M310.6 280.0h.5M307.7 281.4h.5M296.6 280.9h.5M316.0 279.7h.5M281.0 278.2h.5M296.1 278.4h.5M309.5 278.8h.5M330.7 280.8h.5M291.5 279.6h.5M320.9 281.0h.5M294.4 281.5h.5M300.1 283.3h.5M299.3 280.9h.5M310.9 279.3h.5M303.4 281.7h.5M310.2 279.9h.5M309.6 282.6h.5M314.7 280.7h.5M308.4 277.7h.5M306.4 279.3h.5M312.6 279.1h.5M309.7 278.4h.5M314.3 278.9h.5M304.7 280.9h.5M301.6 280.0h.5M316.0 282.6h.5M286.3 278.7h.5M312.0 281.4h.5M300.1 280.1h.5M303.0 283.4h.5M302.9 278.2h.5M288.9 278.1h.5M318.5 279.4h.5M325.2 280.9h.5M309.0 281.0h.5M313.2 281.4h.5M294.9 279.2h.5M299.3 280.2h.5M302.4 278.2h.5M297.8 282.6h.5M327.0 278.7h.5M309.0 279.9h.5M296.2 281.1h.5M304.3 282.5h.5M309.7 279.5h.5M313.8 278.9h.5M314.2 281.0h.5M286.7 279.7h.5M308.3 281.1h.5M306.6 280.0h.5M301.4 279.6h.5M305.0 278.4h.5M311.7 279.5h.5M310.4 279.2h.5M309.3 280.2h.5M314.2 280.7h.5M314.7 279.8h.5M304.4 279.6h.5M292.0 279.8h.5M316.3 281.1h.5M296.2 280.4h.5M312.8 278.0h.5M308.6 280.5h.5M312.8 280.4h.5M286.9 277.0h.5M325.6 279.4h.5M318.2 281.9h.5M305.9 278.3h.5M319.2 279.9h.5M310.4 280.7h.5M314.9 281.5h.5M290.3 277.9h.5M306.5 280.0h.5M313.1 279.8h.5M303.1 283.0h.5M319.3 281.7h.5M315.8 278.8h.5M304.1 279.9h.5M293.6 278.7h.5M306.7 278.2h.5M310.6 280.7h.5M302.6 279.5h.5M311.2 280.7h.5M308.8 278.2h.5M288.2 283.0h.5M298.2 279.5h.5M286.1 278.8h.5M297.4 281.2h.5M300.7 279.3h.5M297.0 279.3h.5M288.6 280.4h.5M317.4 280.2h.5M299.4 281.9h.5M310.1 278.5h.5M299.1 279.1h.5M304.5 281.8h.5M297.7 279.8h.5M306.2 278.2h.5M300.1 280.9h.5M316.7 277.2h.5M312.3 279.6h.5M318.4 280.9h.5M325.4 280.5h.5M300.9 278.8h.5M290.2 280.8h.5M310.4 281.2h.5M308.6 277.8h.5M300.8 279.6h.5M306.7 281.1h.5M319.7 280.4h.5M283.6 278.5h.5M282.9 278.9h.5M292.6 280.4h.5M302.7 281.6h.5M316.2 279.3h.5M314.8 280.0h.5M309.7 282.0h.5M293.1 279.9h.5M321.0 278.9h.5M307.2 280.2h.5M300.7 278.1h.5M297.9 278.6h.5M316.2 280.4h.5M312.3 278.3h.5M310.2 280.2h.5M315.9 278.9h.5M313.4 282.0h.5M323.7 278.6h.5M293.4 277.8h.5M315.0 280.9h.5M308.5 278.7h.5M318.0 282.4h.5M304.6 279.8h.5M317.3 280.7h.5M319.0 279.4h.5M308.5 279.5h.5M299.1 279.6h.5M302.1 280.7h.5M301.9 280.1h.5M296.6 278.2h.5M319.8 278.6h.5M323.8 281.4h.5M281.3 279.1h.5M300.7 280.0h.5M303.2 279.1h.5M318.0 279.8h.5M315.0 279.0h.5M297.9 282.0h.5M302.1 278.4h.5M303.2 281.5h.5M303.3 278.9h.5M311.6 281.4h.5M302.9 279.5h.5M301.2 284.0h.5M303.1 282.6h.5M303.5 280.6h.5M283.9 280.3h.5M305.6 279.5h.5M300.8 278.0h.5M289.6 280.2h.5M298.4 279.9h.5M303.1 279.3h.5M297.5 282.7h.5M293.6 279.3h.5M302.0 278.3h.5M295.1 281.3h.5M314.7 280.2h.5M317.8 278.8h.5M316.3 282.5h.5M301.1 282.7h.5M296.7 278.3h.5M304.6 278.8h.5M311.6 278.4h.5M305.9 277.1h.5M304.7 281.5h.5M302.3 280.5h.5M316.3 278.4h.5M291.8 280.1h.5M307.9 279.6h.5M295.0 281.8h.5M293.0 279.6h.5M304.6 281.1h.5M300.4 278.8h.5M325.9 278.8h.5M313.3 279.8h.5M300.1 279.9h.5M302.4 280.5h.5M305.8 278.6h.5M301.0 283.4h.5M324.2 280.9h.5M307.4 279.6h.5M319.4 279.3h.5M296.5 281.0h.5M295.0 278.8h.5M320.0 277.6h.5M304.4 280.2h.5M307.7 277.9h.5M302.7 279.5h.5M325.0 281.5h.5M297.2 281.3h.5M311.8 279.8h.5M302.5 279.6h.5M289.1 279.1h.5M314.7 282.1h.5M324.3 279.5h.5M311.4 276.5h.5M302.3 278.2h.5M313.6 277.6h.5M294.2 278.4h.5M309.2 281.2h.5M295.5 282.6h.5M306.7 278.8h.5M308.7 280.0h.5M313.7 280.5h.5M327.7 281.7h.5M298.4 281.2h.5M312.9 278.5h.5M297.3 278.8h.5M302.8 281.8h.5M299.3 280.1h.5M312.6 281.4h.5M308.4 278.5h.5M327.9 281.3h.5M319.2 282.4h.5M319.6 280.6h.5M310.0 280.9h.5M289.5 281.2h.5M295.0 280.6h.5M294.6 281.0h.5M300.0 283.6h.5M307.0 280.7h.5M295.7 279.6h.5M304.5 279.6h.5M300.6 278.7h.5M313.0 279.4h.5M296.6 280.5h.5M296.7 279.7h.5M299.8 278.6h.5M302.7 278.8h.5M292.1 280.5h.5M302.0 277.9h.5M301.0 280.3h.5M309.5 280.5h.5M307.7 280.9h.5M300.0 278.8h.5M311.4 279.4h.5M305.2 281.0h.5M314.8 281.8h.5M298.0 279.5h.5M310.8 277.9h.5M292.1 280.9h.5M298.7 278.7h.5M313.4 280.8h.5M314.6 279.5h.5M304.5 261.4h.5M309.7 248.2h.5M300.9 269.5h.5M300.2 263.5h.5M308.2 268.1h.5M302.9 255.2h.5M329.2 258.4h.5M322.2 250.3h.5M308.1 262.5h.5M323.9 279.9h.5M315.7 256.1h.5M300.0 258.2h.5M302.5 266.0h.5M300.1 262.1h.5M320.1 275.2h.5M290.6 256.6h.5M303.8 274.1h.5M304.2 278.9h.5M310.3 275.2h.5M299.5 261.6h.5M316.1 268.5h.5M290.6 261.9h.5M308.7 268.9h.5M301.5 277.5h.5M308.4 275.3h.5M310.7 264.7h.5M304.3 254.9h.5M314.7 269.9h.5M315.3 261.1h.5M298.2 261.1h.5M304.3 263.9h.5M315.8 256.9h.5M302.8 269.4h.5M315.1 281.2h.5M311.7 257.4h.5M297.9 257.9h.5M307.7 266.0h.5M306.5 259.3h.5M305.5 263.4h.5M312.3 264.7h.5M299.9 254.9h.5M320.2 263.3h.5M305.5 263.8h.5M317.1 261.6h.5M308.7 262.2h.5M312.2 256.2h.5M308.9 272.0h.5M317.6 268.8h.5M309.7 276.2h.5M313.4 274.9h.5M296.5 255.5h.5M314.2 262.0h.5M303.3 256.7h.5M320.2 254.8h.5M308.0 253.2h.5M305.6 281.4h.5M328.6 260.2h.5M298.2 276.6h.5M299.6 250.2h.5M310.2 255.7h.5M294.3 272.7h.5M300.7 255.8h.5M308.6 262.6h.5M317.0 264.8h.5M321.2 272.8h.5M322.8 272.7h.5M307.8 268.2h.5M307.3 252.0h.5M296.8 269.8h.5M286.3 257.6h.5M295.8 263.5h.5M298.0 265.9h.5M305.4 260.4h.5M299.7 246.8h.5M307.8 254.0h.5M304.5 266.9h.5M316.4 269.5h.5M320.2 253.0h.5M313.1 276.2h.5M310.6 255.4h.5M310.6 260.0h.5M301.5 272.3h.5M305.6 255.4h.5M301.2 279.2h.5M299.7 269.2h.5M308.7 273.1h.5M304.7 256.7h.5M301.5 256.1h.5M330.0 265.5h.5M304.3 273.8h.5M312.9 262.6h.5M312.6 266.1h.5M317.1 276.8h.5M304.4 263.7h.5M305.5 273.5h.5M310.5 270.1h.5M315.1 259.1h.5M308.3 274.7h.5M315.3 270.3h.5M304.7 261.2h.5M299.6 261.9h.5M306.6 252.9h.5M317.4 258.1h.5M309.4 268.7h.5M302.3 250.0h.5M315.6 267.2h.5M304.9 272.8h.5M315.0 256.6h.5M306.4 250.4h.5M304.8 274.9h.5M299.8 270.4h.5M293.9 261.7h.5M315.4 277.3h.5M311.1 269.9h.5M322.3 245.1h.5M292.1 278.6h.5M328.8 268.6h.5M307.7 266.0h.5M307.4 259.3h.5M307.0 263.1h.5M313.0 269.3h.5M315.8 268.6h.5M298.6 274.8h.5M283.7 264.9h.5M310.1 259.9h.5M323.6 255.6h.5M296.9 260.1h.5M310.8 270.2h.5M308.1 269.2h.5M301.0 259.3h.5M308.3 253.6h.5M308.8 261.0h.5M313.1 256.2h.5M302.5 259.6h.5M303.9 256.3h.5M304.9 253.6h.5M311.8 269.2h.5M307.0 262.6h.5M299.4 256.6h.5M305.2 257.0h.5M296.9 265.3h.5M307.0 260.9h.5M300.0 263.6h.5M301.1 260.7h.5M308.8 269.6h.5M313.8 259.3h.5M317.7 255.1h.5M305.6 274.1h.5M327.9 265.0h.5M304.0 261.1h.5M296.6 262.9h.5M303.4 258.2h.5M317.6 258.0h.5M321.9 270.5h.5M312.7 259.5h.5M302.7 248.6h.5M309.5 261.9h.5M310.5 258.8h.5M311.4 252.5h.5M288.1 267.7h.5M318.4 261.3h.5M305.7 252.1h.5M298.4 269.5h.5M300.7 263.7h.5M305.8 279.4h.5M314.9 253.8h.5M303.0 255.1h.5M295.0 258.7h.5M316.7 264.4h.5M313.0 263.0h.5M303.5 264.7h.5M306.5 278.9h.5M322.8 266.9h.5M312.4 248.6h.5M306.1 282.5h.5M300.2 270.3h.5M317.8 260.9h.5M305.2 260.5h.5M314.1 264.2h.5M320.2 273.2h.5M307.0 284.1h.5M304.4 259.3h.5M305.1 257.2h.5M303.5 263.5h.5M314.9 251.8h.5M295.0 258.0h.5M304.5 267.5h.5M300.3 275.7h.5M302.5 262.3h.5M307.6 273.1h.5M309.7 264.2h.5M302.4 265.3h.5M310.6 261.3h.5M306.9 249.8h.5M302.5 273.2h.5M319.5 263.4h.5M288.4 278.2h.5M305.6 283.9h.5M303.5 271.8h.5M301.8 274.6h.5M317.2 255.8h.5M318.4 286.2h.5M305.2 254.6h.5M309.5 260.9h.5M294.1 255.9h.5M309.2 252.2h.5M316.5 267.5h.5M305.6 274.9h.5M299.1 269.3h.5M295.3 261.5h.5M312.7 259.9h.5M306.1 269.0h.5M320.3 274.1h.5M311.1 262.0h.5M294.6 277.3h.5M323.4 247.3h.5M314.6 263.7h.5M313.2 266.5h.5M305.4 264.0h.5M306.8 273.1h.5M304.8 259.8h.5M312.8 269.0h.5M310.9 266.2h.5M319.9 272.7h.5M308.9 262.4h.5M312.8 249.5h.5M302.6 258.5h.5M308.6 261.0h.5M328.4 269.7h.5M310.6 281.5h.5M307.1 261.5h.5M317.8 270.4h.5M315.1 273.4h.5M303.9 258.9h.5M300.9 264.8h.5M315.8 255.8h.5M302.5 253.6h.5M324.4 270.2h.5M309.0 254.5h.5M298.2 259.0h.5M307.4 254.1h.5M305.1 273.5h.5M307.2 264.8h.5M289.0 261.9h.5M305.8 258.6h.5M295.1 263.4h.5M298.2 259.8h.5M293.3 263.3h.5M315.0 257.5h.5M309.9 252.2h.5M312.1 268.2h.5M303.7 270.9h.5M299.5 264.4h.5M321.6 263.8h.5M297.4 273.0h.5M311.7 261.8h.5M291.4 249.3h.5M293.9 275.6h.5M309.6 257.4h.5M317.0 275.4h.5M299.8 267.8h.5M292.8 266.9h.5M322.8 253.0h.5M307.6 259.1h.5M306.3 264.7h.5M309.5 270.9h.5M311.5 272.2h.5M315.9 272.6h.5M301.3 267.2h.5M303.9 257.4h.5M324.0 266.3h.5M307.5 247.6h.5M305.1 270.0h.5M305.3 259.8h.5M319.8 261.6h.5M304.2 263.2h.5M305.0 272.2h.5M312.0 263.5h.5M304.0 262.2h.5M321.7 261.6h.5M312.7 251.7h.5M309.9 269.4h.5M318.1 266.5h.5M312.1 266.5h.5M316.3 280.0h.5M308.8 257.6h.5M312.2 263.1h.5M312.6 270.1h.5M308.4 260.6h.5M309.7 254.3h.5M309.4 257.1h.5M311.0 265.0h.5M305.2 254.6h.5M307.5 258.7h.5M305.9 269.4h.5M315.3 253.9h.5M315.1 274.6h.5M316.8 266.2h.5M306.3 277.6h.5M302.0 243.1h.5M306.0 257.2h.5M295.2 245.5h.5M324.1 255.9h.5M312.6 250.4h.5M290.6 253.6h.5M317.9 249.8h.5M288.0 253.7h.5M302.4 255.1h.5M295.1 252.6h.5M299.9 261.9h.5M306.6 261.8h.5M286.4 259.2h.5M313.5 261.8h.5M304.4 241.1h.5M300.4 258.2h.5M318.3 252.3h.5M299.7 249.0h.5M314.9 261.8h.5M287.6 264.5h.5M296.3 243.5h.5M289.9 249.3h.5M327.3 274.9h.5M293.2 249.8h.5M306.6 258.2h.5M300.5 242.6h.5M301.2 249.7h.5M288.0 256.1h.5M291.1 241.4h.5M319.6 262.3h.5M319.0 255.9h.5M301.2 254.3h.5M292.0 260.8h.5M307.7 252.6h.5M287.2 254.1h.5M320.7 266.3h.5M313.5 252.3h.5M306.4 259.3h.5M307.0 263.2h.5M281.9 247.9h.5M291.9 260.2h.5M315.4 255.0h.5M310.3 255.6h.5M306.8 251.3h.5M301.2 264.3h.5M302.5 254.7h.5M316.6 262.7h.5M301.4 257.0h.5M295.4 256.0h.5M308.1 255.0h.5M306.7 257.9h.5M280.9 248.6h.5M305.8 251.2h.5M295.9 253.1h.5M320.5 253.2h.5M298.9 251.3h.5M293.7 258.8h.5M295.7 262.1h.5" stroke="#111" stroke-width="0.55" stroke-opacity="0.8" fill="none"/>
<rect x="214.9" y="164.4" width="53.400000000000006" height="53.0" fill="none" stroke="#0a0a0a" stroke-width="1.4"/>
<path d="M214.9 169.0h-1.6M214.9 172.5h-1.6M214.9 175.5h-1.6M214.9 178.5h-1.6M214.9 181.0h-1.6M214.9 183.5h-1.6M214.9 196.2h-2M214.9 199.2h-2M214.9 202.0h-2M214.9 204.7h-2M214.9 207.3h-2M214.9 210.2h-2M214.9 212.6h-2M219.2 217.4v1.8M221.8 217.4v1.8M224.5 217.4v1.8M227.7 217.4v1.8M230.9 217.4v1.8M234.1 217.4v1.8M238.4 217.4v1.4M242.7 217.4v1.4M246.9 217.4v1.4M251.2 217.4v1.4M254.4 217.4v1.4M257.6 217.4v1.4M260.8 217.4v1.4M264.0 217.4v1.4" stroke="#0a0a0a" stroke-width="1"/>
<rect x="279.0" y="164.4" width="53.39999999999998" height="53.0" fill="none" stroke="#0a0a0a" stroke-width="1.4"/>
<path d="M279.0 169.0h-1.6M279.0 172.5h-1.6M279.0 175.5h-1.6M279.0 178.5h-1.6M279.0 181.0h-1.6M279.0 183.5h-1.6M279.0 196.2h-2M279.0 199.2h-2M279.0 202.0h-2M279.0 204.7h-2M279.0 207.3h-2M279.0 210.2h-2M279.0 212.6h-2M283.3 217.4v1.8M285.9 217.4v1.8M288.6 217.4v1.8M291.8 217.4v1.8M295.0 217.4v1.8M298.2 217.4v1.8M302.5 217.4v1.4M306.8 217.4v1.4M311.0 217.4v1.4M315.3 217.4v1.4M318.5 217.4v1.4M321.7 217.4v1.4M324.9 217.4v1.4M328.1 217.4v1.4" stroke="#0a0a0a" stroke-width="1"/>
<rect x="214.6" y="239.1" width="53.70000000000002" height="53.099999999999994" fill="none" stroke="#0a0a0a" stroke-width="1.4"/>
<path d="M214.6 243.7h-1.6M214.6 247.2h-1.6M214.6 250.3h-1.6M214.6 253.2h-1.6M214.6 255.8h-1.6M214.6 258.2h-1.6M214.6 271.0h-2M214.6 273.9h-2M214.6 276.8h-2M214.6 279.5h-2M214.6 282.1h-2M214.6 285.0h-2M214.6 287.4h-2M218.9 292.2v1.8M221.6 292.2v1.8M224.3 292.2v1.8M227.5 292.2v1.8M230.7 292.2v1.8M233.9 292.2v1.8M238.2 292.2v1.4M242.5 292.2v1.4M246.8 292.2v1.4M251.1 292.2v1.4M254.3 292.2v1.4M257.6 292.2v1.4M260.8 292.2v1.4M264.0 292.2v1.4" stroke="#0a0a0a" stroke-width="1"/>
<rect x="279.0" y="239.1" width="53.39999999999998" height="53.099999999999994" fill="none" stroke="#0a0a0a" stroke-width="1.4"/>
<path d="M279.0 243.7h-1.6M279.0 247.2h-1.6M279.0 250.3h-1.6M279.0 253.2h-1.6M279.0 255.8h-1.6M279.0 258.2h-1.6M279.0 271.0h-2M279.0 273.9h-2M279.0 276.8h-2M279.0 279.5h-2M279.0 282.1h-2M279.0 285.0h-2M279.0 287.4h-2M283.3 292.2v1.8M285.9 292.2v1.8M288.6 292.2v1.8M291.8 292.2v1.8M295.0 292.2v1.8M298.2 292.2v1.8M302.5 292.2v1.4M306.8 292.2v1.4M311.0 292.2v1.4M315.3 292.2v1.4M318.5 292.2v1.4M321.7 292.2v1.4M324.9 292.2v1.4M328.1 292.2v1.4" stroke="#0a0a0a" stroke-width="1"/>
<path d="M234.7 239.1V292.2M214.6 274.5H268.3M298.4 239.1V292.2M279 274.5H332.4" stroke="#0a0a0a" stroke-width="0.95"/>
<path d="M239.85 170.5L250.6 168.5L259.1 171.85L258.3 183.6L251.6 189.3L240.85 188.6L235.2 180.6z" fill="none" stroke="#0a0a0a" stroke-width="1.15"/>
<path d="M305.55 170.5L315.6 168.5L324.65 171.85L324.15 183.1L317.6 189.3L306.55 188.6L301.25 180.6z" fill="none" stroke="#0a0a0a" stroke-width="1.15"/>
<path d="M247.3 185.600V241M313.85 185.600V241" stroke="#b0203c" stroke-width="1.3"/>
<path d="M247.3 244.9l-2.4 -5.4l2.4 1l2.4 -1zM313.85 244.9l-2.4 -5.4l2.4 1l2.4 -1z" fill="#b0203c"/>
<text x="228.1" y="158.8" font-size="8.6" textLength="27.70" lengthAdjust="spacing" fill="#111" stroke="#111" >Human</text>
<text x="291.1" y="158.8" font-size="8.6" textLength="29.30" lengthAdjust="spacing" fill="#111" stroke="#111" >HuMice</text>
<text x="218.1" y="171.5" font-size="6.8" textLength="12.90" lengthAdjust="spacing" fill="#111" stroke="#111" >62.2</text>
<text x="280.6" y="171.5" font-size="6.8" textLength="12.90" lengthAdjust="spacing" fill="#111" stroke="#111" >36.7</text>
<text x="215.8" y="246.3" font-size="6.8" textLength="13.80" lengthAdjust="spacing" fill="#111" stroke="#111" >27.8</text>
<text x="251.8" y="246.3" font-size="6.8" textLength="13.20" lengthAdjust="spacing" fill="#111" stroke="#111" >59.4</text>
<text x="215.8" y="290.5" font-size="6.8" textLength="13.30" lengthAdjust="spacing" fill="#111" stroke="#111" >8.65</text>
<text x="253.2" y="290.5" font-size="6.8" textLength="13.20" lengthAdjust="spacing" fill="#111" stroke="#111" >4.17</text>
<text x="280.7" y="246.3" font-size="6.8" textLength="12.70" lengthAdjust="spacing" fill="#111" stroke="#111" >24.1</text>
<text x="316.5" y="246.3" font-size="6.8" textLength="13.50" lengthAdjust="spacing" fill="#111" stroke="#111" >49.5</text>
<text x="280.3" y="290.5" font-size="6.8" textLength="12.70" lengthAdjust="spacing" fill="#111" stroke="#111" >15.3</text>
<text x="319.7" y="290.5" font-size="6.8" textLength="10.80" lengthAdjust="spacing" fill="#111" stroke="#111" >11.1</text>
<path d="M202.4 203V229.4H291M202.4 278.5V303.9H291" stroke="#0a0a0a" stroke-width="1.05" fill="none"/>
<path d="M202.4 198.7l-2.6 5.6l2.6 -1.1l2.6 1.1zM202.4 274.1l-2.6 5.6l2.6 -1.1l2.6 1.1zM294.9 229.4l-5.6 -2.5l1.1 2.5l-1.1 2.5zM294.9 303.9l-5.6 -2.5l1.1 2.5l-1.1 2.5z" fill="#0a0a0a"/>
<path d="M391.2 175.800V263.75H500.700" stroke="#111" stroke-width="1.15" fill="none"/>
<path d="M388 263.75H391.2" stroke="#111" stroke-width="1"/>
<text x="384.5" y="266.85" font-size="8.7" text-anchor="end" font-weight="normal" fill="#111" stroke="#111" >0</text>
<path d="M388 246.85H391.2" stroke="#111" stroke-width="1"/>
<text x="384.5" y="249.95" font-size="8.7" text-anchor="end" font-weight="normal" fill="#111" stroke="#111" >15</text>
<path d="M388 229.95H391.2" stroke="#111" stroke-width="1"/>
<text x="384.5" y="233.04999999999998" font-size="8.7" text-anchor="end" font-weight="normal" fill="#111" stroke="#111" >30</text>
<path d="M388 213.05H391.2" stroke="#111" stroke-width="1"/>
<text x="384.5" y="216.15" font-size="8.7" text-anchor="end" font-weight="normal" fill="#111" stroke="#111" >45</text>
<path d="M388 196.15H391.2" stroke="#111" stroke-width="1"/>
<text x="384.5" y="199.25" font-size="8.7" text-anchor="end" font-weight="normal" fill="#111" stroke="#111" >60</text>
<path d="M388 179.25H391.2" stroke="#111" stroke-width="1"/>
<text x="384.5" y="182.35" font-size="8.7" text-anchor="end" font-weight="normal" fill="#111" stroke="#111" >75</text>
<path d="M403.1 263.75V266.9" stroke="#111" stroke-width="1"/>
<text x="392.5" y="277.5" font-size="8.7" textLength="22.00" lengthAdjust="spacing" fill="#111" stroke="#111" >Naive</text>
<path d="M431.3 263.75V266.9" stroke="#111" stroke-width="1"/>
<text x="424.5" y="277.5" font-size="8.7" textLength="15.50" lengthAdjust="spacing" fill="#111" stroke="#111" >Tcm</text>
<path d="M459.3 263.75V266.9" stroke="#111" stroke-width="1"/>
<text x="452.5" y="277.5" font-size="8.7" textLength="15.00" lengthAdjust="spacing" fill="#111" stroke="#111" >Tem</text>
<path d="M487.5 263.75V266.9" stroke="#111" stroke-width="1"/>
<text x="476.3" y="277.5" font-size="8.7" textLength="23.20" lengthAdjust="spacing" fill="#111" stroke="#111" >Temra</text>
<circle cx="398" cy="188.1" r="2.25" fill="#7892c9" stroke="#2a4880" stroke-width="1.05"/>
<circle cx="396" cy="196.5" r="2.25" fill="#7892c9" stroke="#2a4880" stroke-width="1.05"/>
<circle cx="401.9" cy="194.3" r="2.25" fill="#7892c9" stroke="#2a4880" stroke-width="1.05"/>
<circle cx="426" cy="232.6" r="2.25" fill="#7892c9" stroke="#2a4880" stroke-width="1.05"/>
<circle cx="426" cy="235.9" r="2.25" fill="#7892c9" stroke="#2a4880" stroke-width="1.05"/>
<circle cx="426" cy="239.1" r="2.25" fill="#7892c9" stroke="#2a4880" stroke-width="1.05"/>
<circle cx="453.9" cy="254" r="2.25" fill="#7892c9" stroke="#2a4880" stroke-width="1.05"/>
<circle cx="453.9" cy="257.7" r="2.25" fill="#7892c9" stroke="#2a4880" stroke-width="1.05"/>
<circle cx="481.8" cy="255.2" r="2.25" fill="#7892c9" stroke="#2a4880" stroke-width="1.05"/>
<circle cx="481.8" cy="258.2" r="2.25" fill="#7892c9" stroke="#2a4880" stroke-width="1.05"/>
<circle cx="481.8" cy="260.3" r="2.25" fill="#7892c9" stroke="#2a4880" stroke-width="1.05"/>
<circle cx="408.7" cy="205.3" r="2.25" fill="#df6c7b" stroke="#a8122f" stroke-width="1.05"/>
<circle cx="408.7" cy="207.3" r="2.25" fill="#df6c7b" stroke="#a8122f" stroke-width="1.05"/>
<circle cx="408.7" cy="209.5" r="2.25" fill="#df6c7b" stroke="#a8122f" stroke-width="1.05"/>
<circle cx="436.8" cy="236.9" r="2.25" fill="#df6c7b" stroke="#a8122f" stroke-width="1.05"/>
<circle cx="436.8" cy="238.9" r="2.25" fill="#df6c7b" stroke="#a8122f" stroke-width="1.05"/>
<circle cx="436.8" cy="241.4" r="2.25" fill="#df6c7b" stroke="#a8122f" stroke-width="1.05"/>
<circle cx="464.7" cy="245.2" r="2.25" fill="#df6c7b" stroke="#a8122f" stroke-width="1.05"/>
<circle cx="464.7" cy="247.2" r="2.25" fill="#df6c7b" stroke="#a8122f" stroke-width="1.05"/>
<circle cx="464.7" cy="249.7" r="2.25" fill="#df6c7b" stroke="#a8122f" stroke-width="1.05"/>
<circle cx="492.6" cy="246.4" r="2.25" fill="#df6c7b" stroke="#a8122f" stroke-width="1.05"/>
<circle cx="492.6" cy="248.4" r="2.25" fill="#df6c7b" stroke="#a8122f" stroke-width="1.05"/>
<circle cx="492.6" cy="251" r="2.25" fill="#df6c7b" stroke="#a8122f" stroke-width="1.05"/>
<path d="M399.1 188.5V196" stroke="#2a4880" stroke-width="0.9"/>
<path d="M395.7 194.1h7.2" stroke="#2a4880" stroke-width="0.9"/>
<path d="M405.09999999999997 207.3h7.2" stroke="#a8122f" stroke-width="0.9"/>
<path d="M422.4 235.9h7.2" stroke="#2a4880" stroke-width="0.9"/>
<path d="M433.2 239h7.2" stroke="#a8122f" stroke-width="0.9"/>
<path d="M450.29999999999995 255.8h7.2" stroke="#2a4880" stroke-width="0.9"/>
<path d="M461.09999999999997 247.3h7.2" stroke="#a8122f" stroke-width="0.9"/>
<path d="M478.2 258h7.2" stroke="#2a4880" stroke-width="0.9"/>
<path d="M489.0 248.6h7.2" stroke="#a8122f" stroke-width="0.9"/>
<circle cx="452" cy="173.1" r="2.25" fill="#7892c9" stroke="#2a4880" stroke-width="1.05"/>
<circle cx="452" cy="184.6" r="2.25" fill="#df6c7b" stroke="#a8122f" stroke-width="1.05"/>
<text x="458.2" y="175.6" font-size="8.6" textLength="53.80" lengthAdjust="spacing" fill="#111" stroke="#111" >Human PBMCs</text>
<text x="458.2" y="187.4" font-size="8.6" textLength="51.10" lengthAdjust="spacing" fill="#111" stroke="#111" >HuMice Blood</text>
<rect x="0.5" y="0.5" width="519" height="317" fill="none" stroke="#000" stroke-width="1"/>
</svg>
</body></html>
